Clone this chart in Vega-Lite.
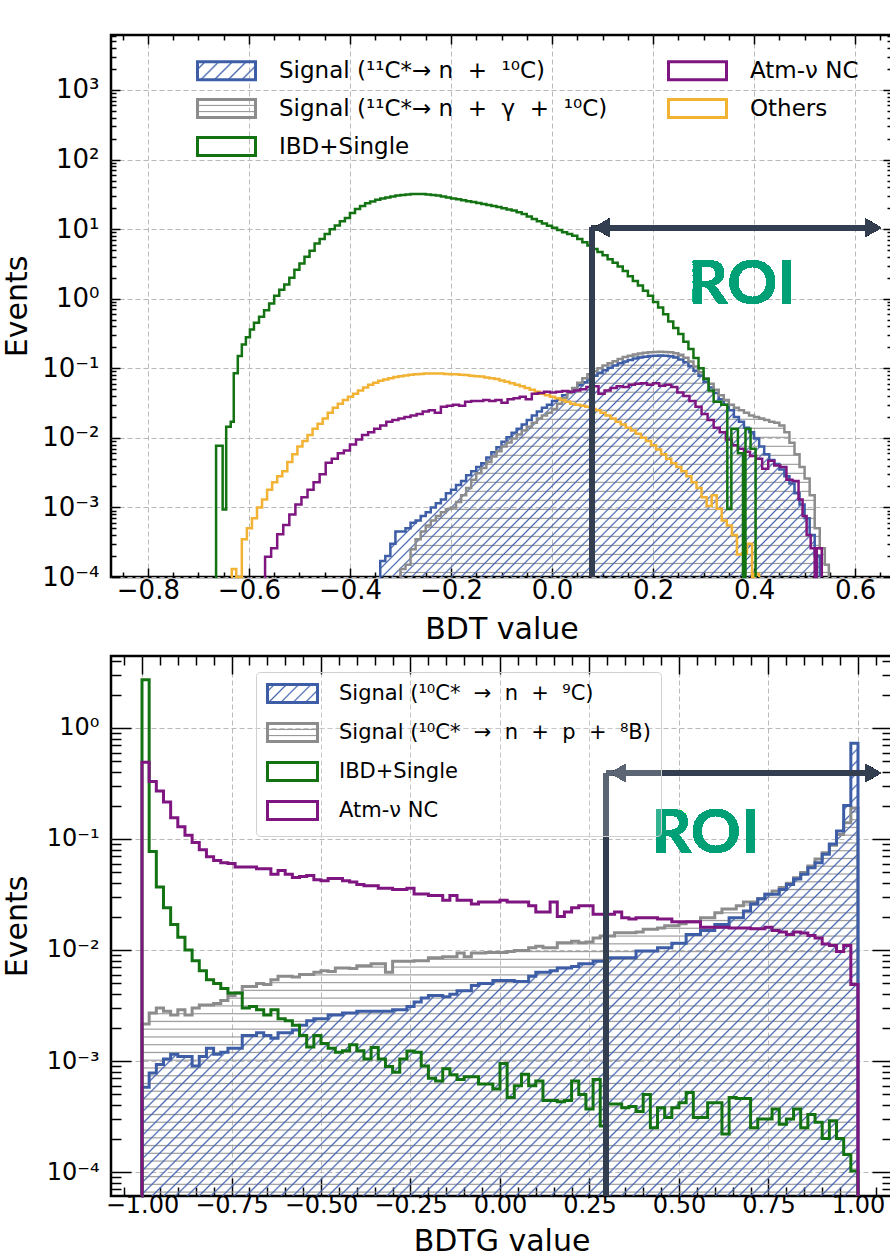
{
"$schema":"https://vega.github.io/schema/vega-lite/v6.json",
"background":"white",
"padding":{"left":0,"top":33,"right":0,"bottom":0},
"spacing":8,
"config":{"font":"DejaVu Sans","view":{"stroke":"black","strokeWidth":2.5},
"axis":{"labelFont":"DejaVu Sans","titleFont":"DejaVu Sans","labelColor":"black","titleColor":"black","tickColor":"black","tickWidth":1.5,"gridColor":"#b8b8b8","gridDash":[5,3],"gridWidth":1,"domain":false,"labelOverlap":false,"labelFlush":false,"labelBound":false,"titleFontWeight":"normal","minExtent":0},
"legend":{"labelFont":"DejaVu Sans","labelColor":"black","labelLimit":0}},
"resolve":{"scale":{"color":"independent","x":"independent","y":"independent"},"legend":{"color":"independent"}},
"datasets":{
"top":[
{"s":"a","x":-0.341,"v":1e-6},{"s":"a","x":-0.34,"v":0.00017},{"s":"a","x":-0.33,"v":0.0002},{"s":"a","x":-0.32,"v":0.0003},{"s":"a","x":-0.31,"v":0.00045},{"s":"a","x":-0.3,"v":0.00045},{"s":"a","x":-0.29,"v":0.0005},{"s":"a","x":-0.28,"v":0.0006},{"s":"a","x":-0.27,"v":0.00065},{"s":"a","x":-0.26,"v":0.00075},{"s":"a","x":-0.25,"v":0.00085},{"s":"a","x":-0.24,"v":0.001},{"s":"a","x":-0.23,"v":0.00115},{"s":"a","x":-0.22,"v":0.0013},{"s":"a","x":-0.21,"v":0.0016},{"s":"a","x":-0.2,"v":0.0018},{"s":"a","x":-0.19,"v":0.0021},{"s":"a","x":-0.18,"v":0.0024},{"s":"a","x":-0.17,"v":0.0029},{"s":"a","x":-0.16,"v":0.0033},{"s":"a","x":-0.15,"v":0.0038},{"s":"a","x":-0.14,"v":0.0043},{"s":"a","x":-0.13,"v":0.0052},{"s":"a","x":-0.12,"v":0.0062},{"s":"a","x":-0.11,"v":0.0073},{"s":"a","x":-0.1,"v":0.0088},{"s":"a","x":-0.09,"v":0.0102},{"s":"a","x":-0.08,"v":0.0118},{"s":"a","x":-0.07,"v":0.0135},{"s":"a","x":-0.06,"v":0.0155},{"s":"a","x":-0.05,"v":0.018},{"s":"a","x":-0.04,"v":0.021},{"s":"a","x":-0.03,"v":0.024},{"s":"a","x":-0.02,"v":0.027},{"s":"a","x":-0.01,"v":0.03},{"s":"a","x":0,"v":0.034},{"s":"a","x":0.01,"v":0.037},{"s":"a","x":0.02,"v":0.041},{"s":"a","x":0.03,"v":0.046},{"s":"a","x":0.04,"v":0.051},{"s":"a","x":0.05,"v":0.057},{"s":"a","x":0.06,"v":0.063},{"s":"a","x":0.07,"v":0.07},{"s":"a","x":0.08,"v":0.078},{"s":"a","x":0.09,"v":0.086},{"s":"a","x":0.1,"v":0.094},{"s":"a","x":0.11,"v":0.102},{"s":"a","x":0.12,"v":0.11},{"s":"a","x":0.13,"v":0.118},{"s":"a","x":0.14,"v":0.125},{"s":"a","x":0.15,"v":0.132},{"s":"a","x":0.16,"v":0.138},{"s":"a","x":0.17,"v":0.143},{"s":"a","x":0.18,"v":0.147},{"s":"a","x":0.19,"v":0.15},{"s":"a","x":0.2,"v":0.152},{"s":"a","x":0.21,"v":0.153},{"s":"a","x":0.22,"v":0.152},{"s":"a","x":0.23,"v":0.149},{"s":"a","x":0.24,"v":0.143},{"s":"a","x":0.25,"v":0.134},{"s":"a","x":0.26,"v":0.122},{"s":"a","x":0.27,"v":0.107},{"s":"a","x":0.28,"v":0.092},{"s":"a","x":0.29,"v":0.078},{"s":"a","x":0.3,"v":0.064},{"s":"a","x":0.31,"v":0.053},{"s":"a","x":0.32,"v":0.044},{"s":"a","x":0.33,"v":0.036},{"s":"a","x":0.34,"v":0.03},{"s":"a","x":0.35,"v":0.025},{"s":"a","x":0.36,"v":0.02},{"s":"a","x":0.37,"v":0.017},{"s":"a","x":0.38,"v":0.014},{"s":"a","x":0.39,"v":0.012},{"s":"a","x":0.4,"v":0.0098},{"s":"a","x":0.41,"v":0.0075},{"s":"a","x":0.42,"v":0.0058},{"s":"a","x":0.43,"v":0.0048},{"s":"a","x":0.44,"v":0.0042},{"s":"a","x":0.45,"v":0.0035},{"s":"a","x":0.46,"v":0.0028},{"s":"a","x":0.47,"v":0.0022},{"s":"a","x":0.48,"v":0.0016},{"s":"a","x":0.49,"v":0.0011},{"s":"a","x":0.5,"v":0.0007},{"s":"a","x":0.51,"v":0.0004},{"s":"a","x":0.52,"v":0.0002},{"s":"a","x":0.53,"v":1e-6},
{"s":"b","x":-0.301,"v":1e-6},{"s":"b","x":-0.3,"v":0.00013},{"s":"b","x":-0.29,"v":0.00015},{"s":"b","x":-0.28,"v":0.00025},{"s":"b","x":-0.27,"v":0.00035},{"s":"b","x":-0.26,"v":0.00045},{"s":"b","x":-0.25,"v":0.00055},{"s":"b","x":-0.24,"v":0.00065},{"s":"b","x":-0.23,"v":0.00075},{"s":"b","x":-0.22,"v":0.00085},{"s":"b","x":-0.21,"v":0.00095},{"s":"b","x":-0.2,"v":0.001},{"s":"b","x":-0.19,"v":0.0012},{"s":"b","x":-0.18,"v":0.0015},{"s":"b","x":-0.17,"v":0.0019},{"s":"b","x":-0.16,"v":0.0025},{"s":"b","x":-0.15,"v":0.0031},{"s":"b","x":-0.14,"v":0.0037},{"s":"b","x":-0.13,"v":0.0045},{"s":"b","x":-0.12,"v":0.0054},{"s":"b","x":-0.11,"v":0.0064},{"s":"b","x":-0.1,"v":0.0075},{"s":"b","x":-0.09,"v":0.0086},{"s":"b","x":-0.08,"v":0.0098},{"s":"b","x":-0.07,"v":0.0112},{"s":"b","x":-0.06,"v":0.0128},{"s":"b","x":-0.05,"v":0.0145},{"s":"b","x":-0.04,"v":0.0165},{"s":"b","x":-0.03,"v":0.019},{"s":"b","x":-0.02,"v":0.021},{"s":"b","x":-0.01,"v":0.023},{"s":"b","x":0,"v":0.026},{"s":"b","x":0.01,"v":0.031},{"s":"b","x":0.02,"v":0.037},{"s":"b","x":0.03,"v":0.044},{"s":"b","x":0.04,"v":0.052},{"s":"b","x":0.05,"v":0.062},{"s":"b","x":0.06,"v":0.072},{"s":"b","x":0.07,"v":0.082},{"s":"b","x":0.08,"v":0.091},{"s":"b","x":0.09,"v":0.1},{"s":"b","x":0.1,"v":0.11},{"s":"b","x":0.11,"v":0.118},{"s":"b","x":0.12,"v":0.126},{"s":"b","x":0.13,"v":0.136},{"s":"b","x":0.14,"v":0.145},{"s":"b","x":0.15,"v":0.152},{"s":"b","x":0.16,"v":0.158},{"s":"b","x":0.17,"v":0.163},{"s":"b","x":0.18,"v":0.167},{"s":"b","x":0.19,"v":0.17},{"s":"b","x":0.2,"v":0.172},{"s":"b","x":0.21,"v":0.173},{"s":"b","x":0.22,"v":0.172},{"s":"b","x":0.23,"v":0.17},{"s":"b","x":0.24,"v":0.165},{"s":"b","x":0.25,"v":0.156},{"s":"b","x":0.26,"v":0.142},{"s":"b","x":0.27,"v":0.125},{"s":"b","x":0.28,"v":0.106},{"s":"b","x":0.29,"v":0.088},{"s":"b","x":0.3,"v":0.072},{"s":"b","x":0.31,"v":0.06},{"s":"b","x":0.32,"v":0.049},{"s":"b","x":0.33,"v":0.041},{"s":"b","x":0.34,"v":0.035},{"s":"b","x":0.35,"v":0.03},{"s":"b","x":0.36,"v":0.027},{"s":"b","x":0.37,"v":0.025},{"s":"b","x":0.38,"v":0.023},{"s":"b","x":0.39,"v":0.021},{"s":"b","x":0.4,"v":0.02},{"s":"b","x":0.41,"v":0.019},{"s":"b","x":0.42,"v":0.018},{"s":"b","x":0.43,"v":0.017},{"s":"b","x":0.44,"v":0.0165},{"s":"b","x":0.45,"v":0.015},{"s":"b","x":0.46,"v":0.012},{"s":"b","x":0.47,"v":0.0085},{"s":"b","x":0.48,"v":0.0058},{"s":"b","x":0.49,"v":0.0038},{"s":"b","x":0.5,"v":0.0026},{"s":"b","x":0.51,"v":0.0015},{"s":"b","x":0.52,"v":0.0005},{"s":"b","x":0.53,"v":0.00026},{"s":"b","x":0.54,"v":0.00015},{"s":"b","x":0.548,"v":1e-6},
{"s":"e","x":-0.635,"v":1e-6},{"s":"e","x":-0.634,"v":0.00013},{"s":"e","x":-0.625,"v":1e-6},{"s":"e","x":-0.614,"v":0.00035},{"s":"e","x":-0.604,"v":0.0005},{"s":"e","x":-0.594,"v":0.0007},{"s":"e","x":-0.584,"v":0.001},{"s":"e","x":-0.574,"v":0.0013},{"s":"e","x":-0.564,"v":0.0018},{"s":"e","x":-0.554,"v":0.0023},{"s":"e","x":-0.544,"v":0.0028},{"s":"e","x":-0.534,"v":0.0033},{"s":"e","x":-0.524,"v":0.0045},{"s":"e","x":-0.514,"v":0.0058},{"s":"e","x":-0.504,"v":0.0075},{"s":"e","x":-0.494,"v":0.009},{"s":"e","x":-0.484,"v":0.011},{"s":"e","x":-0.474,"v":0.0135},{"s":"e","x":-0.464,"v":0.016},{"s":"e","x":-0.454,"v":0.019},{"s":"e","x":-0.444,"v":0.023},{"s":"e","x":-0.434,"v":0.027},{"s":"e","x":-0.424,"v":0.031},{"s":"e","x":-0.414,"v":0.035},{"s":"e","x":-0.404,"v":0.039},{"s":"e","x":-0.394,"v":0.043},{"s":"e","x":-0.384,"v":0.048},{"s":"e","x":-0.374,"v":0.053},{"s":"e","x":-0.364,"v":0.058},{"s":"e","x":-0.354,"v":0.062},{"s":"e","x":-0.344,"v":0.066},{"s":"e","x":-0.334,"v":0.069},{"s":"e","x":-0.324,"v":0.072},{"s":"e","x":-0.314,"v":0.075},{"s":"e","x":-0.304,"v":0.077},{"s":"e","x":-0.294,"v":0.079},{"s":"e","x":-0.284,"v":0.081},{"s":"e","x":-0.274,"v":0.082},{"s":"e","x":-0.264,"v":0.083},{"s":"e","x":-0.254,"v":0.084},{"s":"e","x":-0.244,"v":0.084},{"s":"e","x":-0.234,"v":0.084},{"s":"e","x":-0.224,"v":0.084},{"s":"e","x":-0.214,"v":0.083},{"s":"e","x":-0.204,"v":0.082},{"s":"e","x":-0.194,"v":0.082},{"s":"e","x":-0.184,"v":0.081},{"s":"e","x":-0.174,"v":0.08},{"s":"e","x":-0.164,"v":0.078},{"s":"e","x":-0.154,"v":0.077},{"s":"e","x":-0.144,"v":0.076},{"s":"e","x":-0.134,"v":0.074},{"s":"e","x":-0.124,"v":0.072},{"s":"e","x":-0.114,"v":0.07},{"s":"e","x":-0.104,"v":0.067},{"s":"e","x":-0.094,"v":0.064},{"s":"e","x":-0.084,"v":0.061},{"s":"e","x":-0.074,"v":0.058},{"s":"e","x":-0.064,"v":0.055},{"s":"e","x":-0.054,"v":0.052},{"s":"e","x":-0.044,"v":0.049},{"s":"e","x":-0.034,"v":0.046},{"s":"e","x":-0.024,"v":0.043},{"s":"e","x":-0.014,"v":0.041},{"s":"e","x":-0.004,"v":0.039},{"s":"e","x":0.006,"v":0.037},{"s":"e","x":0.016,"v":0.035},{"s":"e","x":0.026,"v":0.033},{"s":"e","x":0.036,"v":0.031},{"s":"e","x":0.046,"v":0.03},{"s":"e","x":0.056,"v":0.029},{"s":"e","x":0.066,"v":0.028},{"s":"e","x":0.076,"v":0.026},{"s":"e","x":0.086,"v":0.025},{"s":"e","x":0.096,"v":0.023},{"s":"e","x":0.106,"v":0.021},{"s":"e","x":0.116,"v":0.019},{"s":"e","x":0.126,"v":0.017},{"s":"e","x":0.136,"v":0.0155},{"s":"e","x":0.146,"v":0.014},{"s":"e","x":0.156,"v":0.0128},{"s":"e","x":0.166,"v":0.0115},{"s":"e","x":0.176,"v":0.01},{"s":"e","x":0.186,"v":0.009},{"s":"e","x":0.196,"v":0.0078},{"s":"e","x":0.206,"v":0.0068},{"s":"e","x":0.216,"v":0.0058},{"s":"e","x":0.226,"v":0.005},{"s":"e","x":0.236,"v":0.0043},{"s":"e","x":0.246,"v":0.0038},{"s":"e","x":0.256,"v":0.0033},{"s":"e","x":0.266,"v":0.0028},{"s":"e","x":0.276,"v":0.0023},{"s":"e","x":0.286,"v":0.0019},{"s":"e","x":0.296,"v":0.0014},{"s":"e","x":0.306,"v":0.00105},{"s":"e","x":0.316,"v":0.0015},{"s":"e","x":0.326,"v":0.00096},{"s":"e","x":0.336,"v":0.00065},{"s":"e","x":0.346,"v":0.00055},{"s":"e","x":0.356,"v":0.0004},{"s":"e","x":0.366,"v":0.00021},{"s":"e","x":0.376,"v":0.00022},{"s":"e","x":0.386,"v":0.0003},{"s":"e","x":0.396,"v":1e-6},{"s":"e","x":0.4,"v":0.00011},{"s":"e","x":0.41,"v":1e-6},
{"s":"d","x":-0.569,"v":1e-6},{"s":"d","x":-0.568,"v":0.000195},{"s":"d","x":-0.556,"v":0.00026},{"s":"d","x":-0.544,"v":0.00041},{"s":"d","x":-0.532,"v":0.00056},{"s":"d","x":-0.52,"v":0.00079},{"s":"d","x":-0.508,"v":0.0011},{"s":"d","x":-0.496,"v":0.0014},{"s":"d","x":-0.484,"v":0.0018},{"s":"d","x":-0.472,"v":0.0023},{"s":"d","x":-0.46,"v":0.003},{"s":"d","x":-0.448,"v":0.0044},{"s":"d","x":-0.436,"v":0.005},{"s":"d","x":-0.424,"v":0.006},{"s":"d","x":-0.412,"v":0.0066},{"s":"d","x":-0.4,"v":0.008},{"s":"d","x":-0.388,"v":0.0095},{"s":"d","x":-0.376,"v":0.011},{"s":"d","x":-0.364,"v":0.012},{"s":"d","x":-0.352,"v":0.0135},{"s":"d","x":-0.34,"v":0.015},{"s":"d","x":-0.328,"v":0.017},{"s":"d","x":-0.316,"v":0.018},{"s":"d","x":-0.304,"v":0.019},{"s":"d","x":-0.292,"v":0.02},{"s":"d","x":-0.28,"v":0.021},{"s":"d","x":-0.268,"v":0.022},{"s":"d","x":-0.256,"v":0.024},{"s":"d","x":-0.244,"v":0.025},{"s":"d","x":-0.232,"v":0.023},{"s":"d","x":-0.22,"v":0.028},{"s":"d","x":-0.208,"v":0.029},{"s":"d","x":-0.196,"v":0.03},{"s":"d","x":-0.184,"v":0.029},{"s":"d","x":-0.172,"v":0.033},{"s":"d","x":-0.16,"v":0.034},{"s":"d","x":-0.148,"v":0.034},{"s":"d","x":-0.136,"v":0.035},{"s":"d","x":-0.124,"v":0.034},{"s":"d","x":-0.112,"v":0.035},{"s":"d","x":-0.1,"v":0.032},{"s":"d","x":-0.088,"v":0.036},{"s":"d","x":-0.076,"v":0.037},{"s":"d","x":-0.064,"v":0.039},{"s":"d","x":-0.052,"v":0.036},{"s":"d","x":-0.04,"v":0.043},{"s":"d","x":-0.028,"v":0.044},{"s":"d","x":-0.016,"v":0.046},{"s":"d","x":-0.004,"v":0.045},{"s":"d","x":0.008,"v":0.046},{"s":"d","x":0.02,"v":0.047},{"s":"d","x":0.032,"v":0.046},{"s":"d","x":0.044,"v":0.048},{"s":"d","x":0.056,"v":0.05},{"s":"d","x":0.068,"v":0.054},{"s":"d","x":0.08,"v":0.055},{"s":"d","x":0.092,"v":0.043},{"s":"d","x":0.104,"v":0.048},{"s":"d","x":0.116,"v":0.052},{"s":"d","x":0.128,"v":0.055},{"s":"d","x":0.14,"v":0.054},{"s":"d","x":0.152,"v":0.058},{"s":"d","x":0.164,"v":0.06},{"s":"d","x":0.176,"v":0.061},{"s":"d","x":0.188,"v":0.058},{"s":"d","x":0.2,"v":0.061},{"s":"d","x":0.212,"v":0.056},{"s":"d","x":0.224,"v":0.058},{"s":"d","x":0.236,"v":0.054},{"s":"d","x":0.248,"v":0.045},{"s":"d","x":0.26,"v":0.04},{"s":"d","x":0.272,"v":0.034},{"s":"d","x":0.284,"v":0.028},{"s":"d","x":0.296,"v":0.022},{"s":"d","x":0.308,"v":0.018},{"s":"d","x":0.32,"v":0.014},{"s":"d","x":0.332,"v":0.012},{"s":"d","x":0.344,"v":0.0095},{"s":"d","x":0.356,"v":0.0078},{"s":"d","x":0.368,"v":0.007},{"s":"d","x":0.38,"v":0.0063},{"s":"d","x":0.392,"v":0.0055},{"s":"d","x":0.404,"v":0.005},{"s":"d","x":0.416,"v":0.0036},{"s":"d","x":0.428,"v":0.0047},{"s":"d","x":0.44,"v":0.004},{"s":"d","x":0.452,"v":0.0038},{"s":"d","x":0.464,"v":0.0025},{"s":"d","x":0.476,"v":0.0024},{"s":"d","x":0.488,"v":0.0013},{"s":"d","x":0.496,"v":0.00075},{"s":"d","x":0.504,"v":0.0004},{"s":"d","x":0.512,"v":0.00026},{"s":"d","x":0.52,"v":1e-6},{"s":"d","x":0.524,"v":0.00026},{"s":"d","x":0.534,"v":1e-6},
{"s":"c","x":-0.666,"v":1e-6},{"s":"c","x":-0.665,"v":0.0077},{"s":"c","x":-0.652,"v":0.00093},{"s":"c","x":-0.645,"v":0.0145},{"s":"c","x":-0.636,"v":0.017},{"s":"c","x":-0.63,"v":0.085},{"s":"c","x":-0.622,"v":0.15},{"s":"c","x":-0.614,"v":0.22},{"s":"c","x":-0.606,"v":0.28},{"s":"c","x":-0.598,"v":0.36},{"s":"c","x":-0.59,"v":0.45},{"s":"c","x":-0.58,"v":0.55},{"s":"c","x":-0.57,"v":0.68},{"s":"c","x":-0.56,"v":0.85},{"s":"c","x":-0.55,"v":1.1},{"s":"c","x":-0.54,"v":1.35},{"s":"c","x":-0.53,"v":1.6},{"s":"c","x":-0.52,"v":2},{"s":"c","x":-0.51,"v":2.6},{"s":"c","x":-0.5,"v":3.2},{"s":"c","x":-0.49,"v":4},{"s":"c","x":-0.48,"v":4.9},{"s":"c","x":-0.47,"v":6.2},{"s":"c","x":-0.46,"v":7.2},{"s":"c","x":-0.45,"v":8.5},{"s":"c","x":-0.44,"v":10},{"s":"c","x":-0.43,"v":11.3},{"s":"c","x":-0.42,"v":13},{"s":"c","x":-0.41,"v":14.5},{"s":"c","x":-0.4,"v":17},{"s":"c","x":-0.39,"v":19.5},{"s":"c","x":-0.38,"v":21.5},{"s":"c","x":-0.37,"v":23.5},{"s":"c","x":-0.36,"v":25},{"s":"c","x":-0.35,"v":26.5},{"s":"c","x":-0.34,"v":27.5},{"s":"c","x":-0.33,"v":28.5},{"s":"c","x":-0.32,"v":29.5},{"s":"c","x":-0.31,"v":30.5},{"s":"c","x":-0.3,"v":31},{"s":"c","x":-0.29,"v":31.5},{"s":"c","x":-0.28,"v":32},{"s":"c","x":-0.27,"v":32},{"s":"c","x":-0.26,"v":32},{"s":"c","x":-0.25,"v":31.5},{"s":"c","x":-0.24,"v":31},{"s":"c","x":-0.23,"v":30.5},{"s":"c","x":-0.22,"v":29.5},{"s":"c","x":-0.21,"v":28.5},{"s":"c","x":-0.2,"v":27.5},{"s":"c","x":-0.19,"v":26.8},{"s":"c","x":-0.18,"v":26},{"s":"c","x":-0.17,"v":25.2},{"s":"c","x":-0.16,"v":24.5},{"s":"c","x":-0.15,"v":23.8},{"s":"c","x":-0.14,"v":23},{"s":"c","x":-0.13,"v":22.2},{"s":"c","x":-0.12,"v":21.5},{"s":"c","x":-0.11,"v":20.8},{"s":"c","x":-0.1,"v":20},{"s":"c","x":-0.09,"v":19.2},{"s":"c","x":-0.08,"v":18.5},{"s":"c","x":-0.07,"v":17.5},{"s":"c","x":-0.06,"v":16.5},{"s":"c","x":-0.05,"v":15.2},{"s":"c","x":-0.04,"v":14},{"s":"c","x":-0.03,"v":13},{"s":"c","x":-0.02,"v":12},{"s":"c","x":-0.01,"v":11.2},{"s":"c","x":0,"v":10.5},{"s":"c","x":0.01,"v":9.7},{"s":"c","x":0.02,"v":9},{"s":"c","x":0.03,"v":8.5},{"s":"c","x":0.04,"v":8},{"s":"c","x":0.05,"v":7.2},{"s":"c","x":0.06,"v":6.5},{"s":"c","x":0.07,"v":5.8},{"s":"c","x":0.08,"v":5.2},{"s":"c","x":0.09,"v":4.7},{"s":"c","x":0.1,"v":4.2},{"s":"c","x":0.11,"v":3.7},{"s":"c","x":0.12,"v":3.3},{"s":"c","x":0.13,"v":2.9},{"s":"c","x":0.14,"v":2.5},{"s":"c","x":0.15,"v":2.1},{"s":"c","x":0.16,"v":1.8},{"s":"c","x":0.17,"v":1.55},{"s":"c","x":0.18,"v":1.3},{"s":"c","x":0.19,"v":1.1},{"s":"c","x":0.2,"v":0.9},{"s":"c","x":0.21,"v":0.75},{"s":"c","x":0.22,"v":0.6},{"s":"c","x":0.23,"v":0.47},{"s":"c","x":0.24,"v":0.38},{"s":"c","x":0.25,"v":0.31},{"s":"c","x":0.26,"v":0.24},{"s":"c","x":0.27,"v":0.19},{"s":"c","x":0.28,"v":0.14},{"s":"c","x":0.29,"v":0.1},{"s":"c","x":0.3,"v":0.07},{"s":"c","x":0.31,"v":0.048},{"s":"c","x":0.32,"v":0.033},{"s":"c","x":0.335,"v":0.03},{"s":"c","x":0.347,"v":0.00095},{"s":"c","x":0.355,"v":0.0135},{"s":"c","x":0.368,"v":0.006},{"s":"c","x":0.378,"v":1e-6},{"s":"c","x":0.383,"v":0.0135},{"s":"c","x":0.393,"v":0.007},{"s":"c","x":0.403,"v":1e-6}
],
"bot":[
{"s":"g","x":-1.001,"v":1e-6},{"s":"g","x":-1,"v":0.00215},{"s":"g","x":-0.98,"v":0.0027},{"s":"g","x":-0.96,"v":0.003},{"s":"g","x":-0.94,"v":0.0028},{"s":"g","x":-0.92,"v":0.0026},{"s":"g","x":-0.9,"v":0.0029},{"s":"g","x":-0.88,"v":0.0026},{"s":"g","x":-0.86,"v":0.003},{"s":"g","x":-0.84,"v":0.0032},{"s":"g","x":-0.82,"v":0.0032},{"s":"g","x":-0.8,"v":0.0033},{"s":"g","x":-0.78,"v":0.0035},{"s":"g","x":-0.76,"v":0.0039},{"s":"g","x":-0.74,"v":0.0041},{"s":"g","x":-0.72,"v":0.0047},{"s":"g","x":-0.7,"v":0.0047},{"s":"g","x":-0.68,"v":0.005},{"s":"g","x":-0.66,"v":0.0049},{"s":"g","x":-0.64,"v":0.0054},{"s":"g","x":-0.62,"v":0.0058},{"s":"g","x":-0.6,"v":0.0058},{"s":"g","x":-0.58,"v":0.0057},{"s":"g","x":-0.56,"v":0.006},{"s":"g","x":-0.54,"v":0.006},{"s":"g","x":-0.52,"v":0.0063},{"s":"g","x":-0.5,"v":0.0065},{"s":"g","x":-0.48,"v":0.0064},{"s":"g","x":-0.46,"v":0.0069},{"s":"g","x":-0.44,"v":0.0069},{"s":"g","x":-0.42,"v":0.0068},{"s":"g","x":-0.4,"v":0.0072},{"s":"g","x":-0.38,"v":0.0072},{"s":"g","x":-0.36,"v":0.0075},{"s":"g","x":-0.34,"v":0.0075},{"s":"g","x":-0.32,"v":0.0063},{"s":"g","x":-0.3,"v":0.0079},{"s":"g","x":-0.28,"v":0.0079},{"s":"g","x":-0.26,"v":0.0079},{"s":"g","x":-0.24,"v":0.008},{"s":"g","x":-0.22,"v":0.008},{"s":"g","x":-0.2,"v":0.0085},{"s":"g","x":-0.18,"v":0.0085},{"s":"g","x":-0.16,"v":0.0087},{"s":"g","x":-0.14,"v":0.0087},{"s":"g","x":-0.12,"v":0.0094},{"s":"g","x":-0.1,"v":0.0087},{"s":"g","x":-0.08,"v":0.0094},{"s":"g","x":-0.06,"v":0.0094},{"s":"g","x":-0.04,"v":0.0095},{"s":"g","x":-0.02,"v":0.0095},{"s":"g","x":0,"v":0.0095},{"s":"g","x":0.02,"v":0.0097},{"s":"g","x":0.04,"v":0.0099},{"s":"g","x":0.06,"v":0.0099},{"s":"g","x":0.08,"v":0.0105},{"s":"g","x":0.1,"v":0.0108},{"s":"g","x":0.12,"v":0.0105},{"s":"g","x":0.14,"v":0.0105},{"s":"g","x":0.16,"v":0.0116},{"s":"g","x":0.18,"v":0.0116},{"s":"g","x":0.2,"v":0.012},{"s":"g","x":0.22,"v":0.0116},{"s":"g","x":0.24,"v":0.0118},{"s":"g","x":0.26,"v":0.0128},{"s":"g","x":0.28,"v":0.0134},{"s":"g","x":0.3,"v":0.0134},{"s":"g","x":0.32,"v":0.0143},{"s":"g","x":0.34,"v":0.0143},{"s":"g","x":0.36,"v":0.0143},{"s":"g","x":0.38,"v":0.0145},{"s":"g","x":0.4,"v":0.0154},{"s":"g","x":0.42,"v":0.0154},{"s":"g","x":0.44,"v":0.0158},{"s":"g","x":0.46,"v":0.0165},{"s":"g","x":0.48,"v":0.0165},{"s":"g","x":0.5,"v":0.0172},{"s":"g","x":0.52,"v":0.018},{"s":"g","x":0.54,"v":0.018},{"s":"g","x":0.56,"v":0.0195},{"s":"g","x":0.58,"v":0.0195},{"s":"g","x":0.6,"v":0.0217},{"s":"g","x":0.62,"v":0.0234},{"s":"g","x":0.64,"v":0.0234},{"s":"g","x":0.66,"v":0.0251},{"s":"g","x":0.68,"v":0.027},{"s":"g","x":0.7,"v":0.027},{"s":"g","x":0.72,"v":0.029},{"s":"g","x":0.74,"v":0.0318},{"s":"g","x":0.76,"v":0.034},{"s":"g","x":0.78,"v":0.0365},{"s":"g","x":0.8,"v":0.04},{"s":"g","x":0.82,"v":0.0448},{"s":"g","x":0.84,"v":0.05},{"s":"g","x":0.86,"v":0.057},{"s":"g","x":0.88,"v":0.066},{"s":"g","x":0.9,"v":0.075},{"s":"g","x":0.92,"v":0.088},{"s":"g","x":0.94,"v":0.11},{"s":"g","x":0.96,"v":0.14},{"s":"g","x":0.98,"v":0.19},{"s":"g","x":1,"v":1e-6},
{"s":"f","x":-1.001,"v":1e-6},{"s":"f","x":-1,"v":0.00058},{"s":"f","x":-0.98,"v":0.00078},{"s":"f","x":-0.96,"v":0.00093},{"s":"f","x":-0.94,"v":0.00104},{"s":"f","x":-0.92,"v":0.00115},{"s":"f","x":-0.9,"v":0.0011},{"s":"f","x":-0.88,"v":0.0011},{"s":"f","x":-0.86,"v":0.0009},{"s":"f","x":-0.84,"v":0.0011},{"s":"f","x":-0.82,"v":0.0013},{"s":"f","x":-0.8,"v":0.00115},{"s":"f","x":-0.78,"v":0.0012},{"s":"f","x":-0.76,"v":0.0013},{"s":"f","x":-0.74,"v":0.0013},{"s":"f","x":-0.72,"v":0.0017},{"s":"f","x":-0.7,"v":0.0017},{"s":"f","x":-0.68,"v":0.0018},{"s":"f","x":-0.66,"v":0.0017},{"s":"f","x":-0.64,"v":0.0016},{"s":"f","x":-0.62,"v":0.0018},{"s":"f","x":-0.6,"v":0.0018},{"s":"f","x":-0.58,"v":0.0019},{"s":"f","x":-0.56,"v":0.0021},{"s":"f","x":-0.54,"v":0.0023},{"s":"f","x":-0.52,"v":0.0024},{"s":"f","x":-0.5,"v":0.0024},{"s":"f","x":-0.48,"v":0.0026},{"s":"f","x":-0.46,"v":0.0026},{"s":"f","x":-0.44,"v":0.0027},{"s":"f","x":-0.42,"v":0.0027},{"s":"f","x":-0.4,"v":0.0028},{"s":"f","x":-0.38,"v":0.0028},{"s":"f","x":-0.36,"v":0.0028},{"s":"f","x":-0.34,"v":0.0028},{"s":"f","x":-0.32,"v":0.0028},{"s":"f","x":-0.3,"v":0.0029},{"s":"f","x":-0.28,"v":0.0029},{"s":"f","x":-0.26,"v":0.0031},{"s":"f","x":-0.24,"v":0.0034},{"s":"f","x":-0.22,"v":0.0037},{"s":"f","x":-0.2,"v":0.0039},{"s":"f","x":-0.18,"v":0.0039},{"s":"f","x":-0.16,"v":0.0038},{"s":"f","x":-0.14,"v":0.004},{"s":"f","x":-0.12,"v":0.0043},{"s":"f","x":-0.1,"v":0.0043},{"s":"f","x":-0.08,"v":0.0048},{"s":"f","x":-0.06,"v":0.005},{"s":"f","x":-0.04,"v":0.005},{"s":"f","x":-0.02,"v":0.0053},{"s":"f","x":0,"v":0.0053},{"s":"f","x":0.02,"v":0.0053},{"s":"f","x":0.04,"v":0.0052},{"s":"f","x":0.06,"v":0.0052},{"s":"f","x":0.08,"v":0.0058},{"s":"f","x":0.1,"v":0.0063},{"s":"f","x":0.12,"v":0.0063},{"s":"f","x":0.14,"v":0.0065},{"s":"f","x":0.16,"v":0.0069},{"s":"f","x":0.18,"v":0.0069},{"s":"f","x":0.2,"v":0.0071},{"s":"f","x":0.22,"v":0.0075},{"s":"f","x":0.24,"v":0.0075},{"s":"f","x":0.26,"v":0.0079},{"s":"f","x":0.28,"v":0.0079},{"s":"f","x":0.3,"v":0.0085},{"s":"f","x":0.32,"v":0.0085},{"s":"f","x":0.34,"v":0.0085},{"s":"f","x":0.36,"v":0.0085},{"s":"f","x":0.38,"v":0.0098},{"s":"f","x":0.4,"v":0.0098},{"s":"f","x":0.42,"v":0.0098},{"s":"f","x":0.44,"v":0.0105},{"s":"f","x":0.46,"v":0.0105},{"s":"f","x":0.48,"v":0.0115},{"s":"f","x":0.5,"v":0.0115},{"s":"f","x":0.52,"v":0.0138},{"s":"f","x":0.54,"v":0.0138},{"s":"f","x":0.56,"v":0.015},{"s":"f","x":0.58,"v":0.015},{"s":"f","x":0.6,"v":0.017},{"s":"f","x":0.62,"v":0.017},{"s":"f","x":0.64,"v":0.0195},{"s":"f","x":0.66,"v":0.0195},{"s":"f","x":0.68,"v":0.0224},{"s":"f","x":0.7,"v":0.026},{"s":"f","x":0.72,"v":0.029},{"s":"f","x":0.74,"v":0.0318},{"s":"f","x":0.76,"v":0.0318},{"s":"f","x":0.78,"v":0.035},{"s":"f","x":0.8,"v":0.039},{"s":"f","x":0.82,"v":0.0437},{"s":"f","x":0.84,"v":0.048},{"s":"f","x":0.86,"v":0.055},{"s":"f","x":0.88,"v":0.061},{"s":"f","x":0.9,"v":0.073},{"s":"f","x":0.92,"v":0.09},{"s":"f","x":0.94,"v":0.118},{"s":"f","x":0.96,"v":0.2},{"s":"f","x":0.98,"v":0.73},{"s":"f","x":1,"v":1e-6},
{"s":"h","x":-1.001,"v":1e-6},{"s":"h","x":-1,"v":2.72},{"s":"h","x":-0.98,"v":0.077},{"s":"h","x":-0.96,"v":0.037},{"s":"h","x":-0.94,"v":0.024},{"s":"h","x":-0.92,"v":0.017},{"s":"h","x":-0.9,"v":0.013},{"s":"h","x":-0.88,"v":0.01},{"s":"h","x":-0.86,"v":0.008},{"s":"h","x":-0.84,"v":0.0065},{"s":"h","x":-0.82,"v":0.0054},{"s":"h","x":-0.8,"v":0.005},{"s":"h","x":-0.78,"v":0.0045},{"s":"h","x":-0.76,"v":0.0041},{"s":"h","x":-0.74,"v":0.0041},{"s":"h","x":-0.72,"v":0.003},{"s":"h","x":-0.7,"v":0.0031},{"s":"h","x":-0.68,"v":0.0029},{"s":"h","x":-0.66,"v":0.0026},{"s":"h","x":-0.64,"v":0.0029},{"s":"h","x":-0.62,"v":0.0024},{"s":"h","x":-0.6,"v":0.0023},{"s":"h","x":-0.58,"v":0.0021},{"s":"h","x":-0.56,"v":0.0017},{"s":"h","x":-0.54,"v":0.00134},{"s":"h","x":-0.52,"v":0.0017},{"s":"h","x":-0.5,"v":0.00144},{"s":"h","x":-0.48,"v":0.0013},{"s":"h","x":-0.46,"v":0.0012},{"s":"h","x":-0.44,"v":0.00124},{"s":"h","x":-0.42,"v":0.0014},{"s":"h","x":-0.4,"v":0.00124},{"s":"h","x":-0.38,"v":0.00104},{"s":"h","x":-0.36,"v":0.00132},{"s":"h","x":-0.34,"v":0.00104},{"s":"h","x":-0.32,"v":0.00089},{"s":"h","x":-0.3,"v":0.00079},{"s":"h","x":-0.28,"v":0.00104},{"s":"h","x":-0.26,"v":0.00123},{"s":"h","x":-0.24,"v":0.0012},{"s":"h","x":-0.22,"v":0.0009},{"s":"h","x":-0.2,"v":0.0007},{"s":"h","x":-0.18,"v":0.00066},{"s":"h","x":-0.16,"v":0.00085},{"s":"h","x":-0.14,"v":0.00075},{"s":"h","x":-0.12,"v":0.00068},{"s":"h","x":-0.1,"v":0.00072},{"s":"h","x":-0.08,"v":0.00072},{"s":"h","x":-0.06,"v":0.00062},{"s":"h","x":-0.04,"v":0.00062},{"s":"h","x":-0.02,"v":0.00056},{"s":"h","x":0,"v":0.00095},{"s":"h","x":0.02,"v":0.00047},{"s":"h","x":0.04,"v":0.0006},{"s":"h","x":0.06,"v":0.00076},{"s":"h","x":0.08,"v":0.0006},{"s":"h","x":0.1,"v":0.00066},{"s":"h","x":0.12,"v":0.00044},{"s":"h","x":0.14,"v":0.00044},{"s":"h","x":0.16,"v":0.00043},{"s":"h","x":0.18,"v":0.00044},{"s":"h","x":0.2,"v":0.00066},{"s":"h","x":0.22,"v":0.0005},{"s":"h","x":0.24,"v":0.00037},{"s":"h","x":0.26,"v":0.00068},{"s":"h","x":0.28,"v":0.00026},{"s":"h","x":0.3,"v":0.00041},{"s":"h","x":0.32,"v":0.00041},{"s":"h","x":0.34,"v":0.00038},{"s":"h","x":0.36,"v":0.00039},{"s":"h","x":0.38,"v":0.00035},{"s":"h","x":0.4,"v":0.0005},{"s":"h","x":0.42,"v":0.00025},{"s":"h","x":0.44,"v":0.00038},{"s":"h","x":0.46,"v":0.00031},{"s":"h","x":0.48,"v":0.00038},{"s":"h","x":0.5,"v":0.00042},{"s":"h","x":0.52,"v":0.00052},{"s":"h","x":0.54,"v":0.00031},{"s":"h","x":0.56,"v":0.00031},{"s":"h","x":0.58,"v":0.00042},{"s":"h","x":0.6,"v":0.00042},{"s":"h","x":0.62,"v":0.00022},{"s":"h","x":0.64,"v":0.00047},{"s":"h","x":0.66,"v":0.00046},{"s":"h","x":0.68,"v":0.00046},{"s":"h","x":0.7,"v":0.00025},{"s":"h","x":0.72,"v":0.0003},{"s":"h","x":0.74,"v":0.0003},{"s":"h","x":0.76,"v":0.00037},{"s":"h","x":0.78,"v":0.00027},{"s":"h","x":0.8,"v":0.0003},{"s":"h","x":0.82,"v":0.00037},{"s":"h","x":0.84,"v":0.00025},{"s":"h","x":0.86,"v":0.00033},{"s":"h","x":0.88,"v":0.00028},{"s":"h","x":0.9,"v":0.0002},{"s":"h","x":0.92,"v":0.00029},{"s":"h","x":0.94,"v":0.0002},{"s":"h","x":0.96,"v":0.000144},{"s":"h","x":0.98,"v":0.000102},{"s":"h","x":1,"v":1e-6},
{"s":"i","x":-1.001,"v":1e-6},{"s":"i","x":-1,"v":0.49},{"s":"i","x":-0.98,"v":0.33},{"s":"i","x":-0.96,"v":0.27},{"s":"i","x":-0.94,"v":0.215},{"s":"i","x":-0.92,"v":0.155},{"s":"i","x":-0.9,"v":0.129},{"s":"i","x":-0.88,"v":0.108},{"s":"i","x":-0.86,"v":0.093},{"s":"i","x":-0.84,"v":0.08},{"s":"i","x":-0.82,"v":0.069},{"s":"i","x":-0.8,"v":0.064},{"s":"i","x":-0.78,"v":0.061},{"s":"i","x":-0.76,"v":0.06},{"s":"i","x":-0.74,"v":0.056},{"s":"i","x":-0.72,"v":0.056},{"s":"i","x":-0.7,"v":0.056},{"s":"i","x":-0.68,"v":0.054},{"s":"i","x":-0.66,"v":0.054},{"s":"i","x":-0.64,"v":0.048},{"s":"i","x":-0.62,"v":0.052},{"s":"i","x":-0.6,"v":0.048},{"s":"i","x":-0.58,"v":0.045},{"s":"i","x":-0.56,"v":0.046},{"s":"i","x":-0.54,"v":0.047},{"s":"i","x":-0.52,"v":0.043},{"s":"i","x":-0.5,"v":0.042},{"s":"i","x":-0.48,"v":0.044},{"s":"i","x":-0.46,"v":0.044},{"s":"i","x":-0.44,"v":0.042},{"s":"i","x":-0.42,"v":0.041},{"s":"i","x":-0.4,"v":0.039},{"s":"i","x":-0.38,"v":0.038},{"s":"i","x":-0.36,"v":0.038},{"s":"i","x":-0.34,"v":0.036},{"s":"i","x":-0.32,"v":0.036},{"s":"i","x":-0.3,"v":0.035},{"s":"i","x":-0.28,"v":0.035},{"s":"i","x":-0.26,"v":0.036},{"s":"i","x":-0.24,"v":0.032},{"s":"i","x":-0.22,"v":0.032},{"s":"i","x":-0.2,"v":0.031},{"s":"i","x":-0.18,"v":0.031},{"s":"i","x":-0.16,"v":0.028},{"s":"i","x":-0.14,"v":0.031},{"s":"i","x":-0.12,"v":0.028},{"s":"i","x":-0.1,"v":0.028},{"s":"i","x":-0.08,"v":0.026},{"s":"i","x":-0.06,"v":0.027},{"s":"i","x":-0.04,"v":0.027},{"s":"i","x":-0.02,"v":0.027},{"s":"i","x":0,"v":0.028},{"s":"i","x":0.02,"v":0.027},{"s":"i","x":0.04,"v":0.027},{"s":"i","x":0.06,"v":0.027},{"s":"i","x":0.08,"v":0.025},{"s":"i","x":0.1,"v":0.022},{"s":"i","x":0.12,"v":0.022},{"s":"i","x":0.14,"v":0.027},{"s":"i","x":0.16,"v":0.02},{"s":"i","x":0.18,"v":0.022},{"s":"i","x":0.2,"v":0.024},{"s":"i","x":0.22,"v":0.025},{"s":"i","x":0.24,"v":0.025},{"s":"i","x":0.26,"v":0.021},{"s":"i","x":0.28,"v":0.021},{"s":"i","x":0.3,"v":0.021},{"s":"i","x":0.32,"v":0.022},{"s":"i","x":0.34,"v":0.0195},{"s":"i","x":0.36,"v":0.019},{"s":"i","x":0.38,"v":0.0195},{"s":"i","x":0.4,"v":0.0195},{"s":"i","x":0.42,"v":0.0195},{"s":"i","x":0.44,"v":0.019},{"s":"i","x":0.46,"v":0.019},{"s":"i","x":0.48,"v":0.018},{"s":"i","x":0.5,"v":0.018},{"s":"i","x":0.52,"v":0.018},{"s":"i","x":0.54,"v":0.018},{"s":"i","x":0.56,"v":0.016},{"s":"i","x":0.58,"v":0.016},{"s":"i","x":0.6,"v":0.016},{"s":"i","x":0.62,"v":0.016},{"s":"i","x":0.64,"v":0.0158},{"s":"i","x":0.66,"v":0.0158},{"s":"i","x":0.68,"v":0.0158},{"s":"i","x":0.7,"v":0.0155},{"s":"i","x":0.72,"v":0.0155},{"s":"i","x":0.74,"v":0.016},{"s":"i","x":0.76,"v":0.015},{"s":"i","x":0.78,"v":0.0145},{"s":"i","x":0.8,"v":0.0138},{"s":"i","x":0.82,"v":0.0145},{"s":"i","x":0.84,"v":0.0142},{"s":"i","x":0.86,"v":0.0135},{"s":"i","x":0.88,"v":0.0128},{"s":"i","x":0.9,"v":0.0113},{"s":"i","x":0.92,"v":0.011},{"s":"i","x":0.94,"v":0.0097},{"s":"i","x":0.96,"v":0.011},{"s":"i","x":0.98,"v":0.0049},{"s":"i","x":1,"v":1e-6}
]},
"vconcat":[
{"width":781,"height":542,"data":{"name":"top"},
"resolve":{"axis":{"x":"independent","y":"independent"}},
"layer":[
{"transform":[{"filter":"datum.s === 'b'"}],
"mark":{"type":"area","interpolate":"step-after","fill":{"gradient":"linear","x1":0,"y1":0,"x2":0,"y2":1,"stops":[
{"offset":0.015,"color":"rgba(153,153,153,0)"},{"offset":0.02,"color":"#999999"},{"offset":0.025,"color":"rgba(153,153,153,0)"},
{"offset":0.055,"color":"rgba(153,153,153,0)"},{"offset":0.06,"color":"#999999"},{"offset":0.065,"color":"rgba(153,153,153,0)"},
{"offset":0.095,"color":"rgba(153,153,153,0)"},{"offset":0.1,"color":"#999999"},{"offset":0.105,"color":"rgba(153,153,153,0)"},
{"offset":0.135,"color":"rgba(153,153,153,0)"},{"offset":0.14,"color":"#999999"},{"offset":0.145,"color":"rgba(153,153,153,0)"},
{"offset":0.175,"color":"rgba(153,153,153,0)"},{"offset":0.18,"color":"#999999"},{"offset":0.185,"color":"rgba(153,153,153,0)"},
{"offset":0.215,"color":"rgba(153,153,153,0)"},{"offset":0.22,"color":"#999999"},{"offset":0.225,"color":"rgba(153,153,153,0)"},
{"offset":0.255,"color":"rgba(153,153,153,0)"},{"offset":0.26,"color":"#999999"},{"offset":0.265,"color":"rgba(153,153,153,0)"},
{"offset":0.295,"color":"rgba(153,153,153,0)"},{"offset":0.3,"color":"#999999"},{"offset":0.305,"color":"rgba(153,153,153,0)"},
{"offset":0.335,"color":"rgba(153,153,153,0)"},{"offset":0.34,"color":"#999999"},{"offset":0.345,"color":"rgba(153,153,153,0)"},
{"offset":0.375,"color":"rgba(153,153,153,0)"},{"offset":0.38,"color":"#999999"},{"offset":0.385,"color":"rgba(153,153,153,0)"},
{"offset":0.415,"color":"rgba(153,153,153,0)"},{"offset":0.42,"color":"#999999"},{"offset":0.425,"color":"rgba(153,153,153,0)"},
{"offset":0.455,"color":"rgba(153,153,153,0)"},{"offset":0.46,"color":"#999999"},{"offset":0.465,"color":"rgba(153,153,153,0)"},
{"offset":0.495,"color":"rgba(153,153,153,0)"},{"offset":0.5,"color":"#999999"},{"offset":0.505,"color":"rgba(153,153,153,0)"},
{"offset":0.535,"color":"rgba(153,153,153,0)"},{"offset":0.54,"color":"#999999"},{"offset":0.545,"color":"rgba(153,153,153,0)"},
{"offset":0.575,"color":"rgba(153,153,153,0)"},{"offset":0.58,"color":"#999999"},{"offset":0.585,"color":"rgba(153,153,153,0)"},
{"offset":0.615,"color":"rgba(153,153,153,0)"},{"offset":0.62,"color":"#999999"},{"offset":0.625,"color":"rgba(153,153,153,0)"},
{"offset":0.655,"color":"rgba(153,153,153,0)"},{"offset":0.66,"color":"#999999"},{"offset":0.665,"color":"rgba(153,153,153,0)"},
{"offset":0.695,"color":"rgba(153,153,153,0)"},{"offset":0.7,"color":"#999999"},{"offset":0.705,"color":"rgba(153,153,153,0)"},
{"offset":0.735,"color":"rgba(153,153,153,0)"},{"offset":0.74,"color":"#999999"},{"offset":0.745,"color":"rgba(153,153,153,0)"},
{"offset":0.775,"color":"rgba(153,153,153,0)"},{"offset":0.78,"color":"#999999"},{"offset":0.785,"color":"rgba(153,153,153,0)"},
{"offset":0.815,"color":"rgba(153,153,153,0)"},{"offset":0.82,"color":"#999999"},{"offset":0.825,"color":"rgba(153,153,153,0)"},
{"offset":0.855,"color":"rgba(153,153,153,0)"},{"offset":0.86,"color":"#999999"},{"offset":0.865,"color":"rgba(153,153,153,0)"},
{"offset":0.895,"color":"rgba(153,153,153,0)"},{"offset":0.9,"color":"#999999"},{"offset":0.905,"color":"rgba(153,153,153,0)"},
{"offset":0.935,"color":"rgba(153,153,153,0)"},{"offset":0.94,"color":"#999999"},{"offset":0.945,"color":"rgba(153,153,153,0)"},
{"offset":0.975,"color":"rgba(153,153,153,0)"},{"offset":0.98,"color":"#999999"},{"offset":0.985,"color":"rgba(153,153,153,0)"}]}},
"encoding":{
"x":{"field":"x","type":"quantitative","scale":{"domain":[-0.873,0.673],"nice":false,"zero":false},
"axis":{"orient":"bottom","values":[-0.85,-0.8,-0.75,-0.7,-0.65,-0.6,-0.55,-0.5,-0.45,-0.4,-0.35,-0.3,-0.25,-0.2,-0.15,-0.1,-0.05,0,0.05,0.1,0.15,0.2,0.25,0.3,0.35,0.4,0.45,0.5,0.55,0.6,0.65],
"labelExpr":"abs(datum.value*5-round(datum.value*5))<0.001 ? format(datum.value,'.1f') : ''",
"tickSize":{"condition":{"test":"abs(datum.value*5-round(datum.value*5))<0.001","value":-9},"value":-5},
"gridOpacity":{"condition":{"test":"abs(datum.value*5-round(datum.value*5))<0.001","value":1},"value":0},
"labelFontSize":{"condition":{"test":"abs(datum.value*5-round(datum.value*5))<0.001","value":26},"value":0},
"grid":true,"labelPadding":9,"title":"BDT value","titleFontSize":30,"titleY":52,"titleBaseline":"middle"}},
"y":{"field":"v","type":"quantitative","scale":{"type":"log","domain":[0.0001,6170],"nice":false,"clamp":true},
"axis":{"orient":"left","values":[0.0001,0.0002,0.0003,0.0004,0.0005,0.0006,0.0007,0.0008,0.0009,0.001,0.002,0.003,0.004,0.005,0.006,0.007,0.008,0.009,0.01,0.02,0.03,0.04,0.05,0.06,0.07,0.08,0.09,0.1,0.2,0.3,0.4,0.5,0.6,0.7,0.8,0.9,1,2,3,4,5,6,7,8,9,10,20,30,40,50,60,70,80,90,100,200,300,400,500,600,700,800,900,1000,2000,3000,4000,5000,6000],
"labelExpr":"abs(log(datum.value)/LN10-round(log(datum.value)/LN10))<0.001 ? '10' + (datum.value < 0.5 ? '⁻' : '') + ['⁰','¹','²','³','⁴','⁵','⁶','⁷','⁸','⁹'][abs(round(log(datum.value)/LN10))] : ''",
"tickSize":{"condition":{"test":"abs(log(datum.value)/LN10-round(log(datum.value)/LN10))<0.001","value":-9},"value":-5},
"gridOpacity":{"condition":{"test":"abs(log(datum.value)/LN10-round(log(datum.value)/LN10))<0.001","value":1},"value":0},
"labelFontSize":{"condition":{"test":"abs(log(datum.value)/LN10-round(log(datum.value)/LN10))<0.001","value":26},"value":0},
"grid":true,"labelPadding":21,"title":"Events","titleFontSize":30,"titleX":-94,"titleBaseline":"middle"}},
"y2":{"datum":0.0001}}},
{"transform":[{"filter":"datum.s === 'a'"}],
"mark":{"type":"area","interpolate":"step-after","fill":{"gradient":"linear","x1":0,"y1":0,"x2":1.2,"y2":0.603,"stops":[
{"offset":0.005,"color":"rgba(69,101,176,0)"},{"offset":0.0075,"color":"#4565b0"},{"offset":0.01,"color":"rgba(69,101,176,0)"},
{"offset":0.02,"color":"rgba(69,101,176,0)"},{"offset":0.0225,"color":"#4565b0"},{"offset":0.025,"color":"rgba(69,101,176,0)"},
{"offset":0.035,"color":"rgba(69,101,176,0)"},{"offset":0.0375,"color":"#4565b0"},{"offset":0.04,"color":"rgba(69,101,176,0)"},
{"offset":0.05,"color":"rgba(69,101,176,0)"},{"offset":0.0525,"color":"#4565b0"},{"offset":0.055,"color":"rgba(69,101,176,0)"},
{"offset":0.065,"color":"rgba(69,101,176,0)"},{"offset":0.0675,"color":"#4565b0"},{"offset":0.07,"color":"rgba(69,101,176,0)"},
{"offset":0.08,"color":"rgba(69,101,176,0)"},{"offset":0.0825,"color":"#4565b0"},{"offset":0.085,"color":"rgba(69,101,176,0)"},
{"offset":0.095,"color":"rgba(69,101,176,0)"},{"offset":0.0975,"color":"#4565b0"},{"offset":0.1,"color":"rgba(69,101,176,0)"},
{"offset":0.11,"color":"rgba(69,101,176,0)"},{"offset":0.1125,"color":"#4565b0"},{"offset":0.115,"color":"rgba(69,101,176,0)"},
{"offset":0.125,"color":"rgba(69,101,176,0)"},{"offset":0.1275,"color":"#4565b0"},{"offset":0.13,"color":"rgba(69,101,176,0)"},
{"offset":0.14,"color":"rgba(69,101,176,0)"},{"offset":0.1425,"color":"#4565b0"},{"offset":0.145,"color":"rgba(69,101,176,0)"},
{"offset":0.155,"color":"rgba(69,101,176,0)"},{"offset":0.1575,"color":"#4565b0"},{"offset":0.16,"color":"rgba(69,101,176,0)"},
{"offset":0.17,"color":"rgba(69,101,176,0)"},{"offset":0.1725,"color":"#4565b0"},{"offset":0.175,"color":"rgba(69,101,176,0)"},
{"offset":0.185,"color":"rgba(69,101,176,0)"},{"offset":0.1875,"color":"#4565b0"},{"offset":0.19,"color":"rgba(69,101,176,0)"},
{"offset":0.2,"color":"rgba(69,101,176,0)"},{"offset":0.2025,"color":"#4565b0"},{"offset":0.205,"color":"rgba(69,101,176,0)"},
{"offset":0.215,"color":"rgba(69,101,176,0)"},{"offset":0.2175,"color":"#4565b0"},{"offset":0.22,"color":"rgba(69,101,176,0)"},
{"offset":0.23,"color":"rgba(69,101,176,0)"},{"offset":0.2325,"color":"#4565b0"},{"offset":0.235,"color":"rgba(69,101,176,0)"},
{"offset":0.245,"color":"rgba(69,101,176,0)"},{"offset":0.2475,"color":"#4565b0"},{"offset":0.25,"color":"rgba(69,101,176,0)"},
{"offset":0.26,"color":"rgba(69,101,176,0)"},{"offset":0.2625,"color":"#4565b0"},{"offset":0.265,"color":"rgba(69,101,176,0)"},
{"offset":0.275,"color":"rgba(69,101,176,0)"},{"offset":0.2775,"color":"#4565b0"},{"offset":0.28,"color":"rgba(69,101,176,0)"},
{"offset":0.29,"color":"rgba(69,101,176,0)"},{"offset":0.2925,"color":"#4565b0"},{"offset":0.295,"color":"rgba(69,101,176,0)"},
{"offset":0.305,"color":"rgba(69,101,176,0)"},{"offset":0.3075,"color":"#4565b0"},{"offset":0.31,"color":"rgba(69,101,176,0)"},
{"offset":0.32,"color":"rgba(69,101,176,0)"},{"offset":0.3225,"color":"#4565b0"},{"offset":0.325,"color":"rgba(69,101,176,0)"},
{"offset":0.335,"color":"rgba(69,101,176,0)"},{"offset":0.3375,"color":"#4565b0"},{"offset":0.34,"color":"rgba(69,101,176,0)"},
{"offset":0.35,"color":"rgba(69,101,176,0)"},{"offset":0.3525,"color":"#4565b0"},{"offset":0.355,"color":"rgba(69,101,176,0)"},
{"offset":0.365,"color":"rgba(69,101,176,0)"},{"offset":0.3675,"color":"#4565b0"},{"offset":0.37,"color":"rgba(69,101,176,0)"},
{"offset":0.38,"color":"rgba(69,101,176,0)"},{"offset":0.3825,"color":"#4565b0"},{"offset":0.385,"color":"rgba(69,101,176,0)"},
{"offset":0.395,"color":"rgba(69,101,176,0)"},{"offset":0.3975,"color":"#4565b0"},{"offset":0.4,"color":"rgba(69,101,176,0)"},
{"offset":0.41,"color":"rgba(69,101,176,0)"},{"offset":0.4125,"color":"#4565b0"},{"offset":0.415,"color":"rgba(69,101,176,0)"},
{"offset":0.425,"color":"rgba(69,101,176,0)"},{"offset":0.4275,"color":"#4565b0"},{"offset":0.43,"color":"rgba(69,101,176,0)"},
{"offset":0.44,"color":"rgba(69,101,176,0)"},{"offset":0.4425,"color":"#4565b0"},{"offset":0.445,"color":"rgba(69,101,176,0)"},
{"offset":0.455,"color":"rgba(69,101,176,0)"},{"offset":0.4575,"color":"#4565b0"},{"offset":0.46,"color":"rgba(69,101,176,0)"},
{"offset":0.47,"color":"rgba(69,101,176,0)"},{"offset":0.4725,"color":"#4565b0"},{"offset":0.475,"color":"rgba(69,101,176,0)"},
{"offset":0.485,"color":"rgba(69,101,176,0)"},{"offset":0.4875,"color":"#4565b0"},{"offset":0.49,"color":"rgba(69,101,176,0)"},
{"offset":0.5,"color":"rgba(69,101,176,0)"},{"offset":0.5025,"color":"#4565b0"},{"offset":0.505,"color":"rgba(69,101,176,0)"},
{"offset":0.515,"color":"rgba(69,101,176,0)"},{"offset":0.5175,"color":"#4565b0"},{"offset":0.52,"color":"rgba(69,101,176,0)"},
{"offset":0.53,"color":"rgba(69,101,176,0)"},{"offset":0.5325,"color":"#4565b0"},{"offset":0.535,"color":"rgba(69,101,176,0)"},
{"offset":0.545,"color":"rgba(69,101,176,0)"},{"offset":0.5475,"color":"#4565b0"},{"offset":0.55,"color":"rgba(69,101,176,0)"},
{"offset":0.56,"color":"rgba(69,101,176,0)"},{"offset":0.5625,"color":"#4565b0"},{"offset":0.565,"color":"rgba(69,101,176,0)"},
{"offset":0.575,"color":"rgba(69,101,176,0)"},{"offset":0.5775,"color":"#4565b0"},{"offset":0.58,"color":"rgba(69,101,176,0)"},
{"offset":0.59,"color":"rgba(69,101,176,0)"},{"offset":0.5925,"color":"#4565b0"},{"offset":0.595,"color":"rgba(69,101,176,0)"},
{"offset":0.605,"color":"rgba(69,101,176,0)"},{"offset":0.6075,"color":"#4565b0"},{"offset":0.61,"color":"rgba(69,101,176,0)"},
{"offset":0.62,"color":"rgba(69,101,176,0)"},{"offset":0.6225,"color":"#4565b0"},{"offset":0.625,"color":"rgba(69,101,176,0)"},
{"offset":0.635,"color":"rgba(69,101,176,0)"},{"offset":0.6375,"color":"#4565b0"},{"offset":0.64,"color":"rgba(69,101,176,0)"},
{"offset":0.65,"color":"rgba(69,101,176,0)"},{"offset":0.6525,"color":"#4565b0"},{"offset":0.655,"color":"rgba(69,101,176,0)"},
{"offset":0.665,"color":"rgba(69,101,176,0)"},{"offset":0.6675,"color":"#4565b0"},{"offset":0.67,"color":"rgba(69,101,176,0)"},
{"offset":0.68,"color":"rgba(69,101,176,0)"},{"offset":0.6825,"color":"#4565b0"},{"offset":0.685,"color":"rgba(69,101,176,0)"},
{"offset":0.695,"color":"rgba(69,101,176,0)"},{"offset":0.6975,"color":"#4565b0"},{"offset":0.7,"color":"rgba(69,101,176,0)"},
{"offset":0.71,"color":"rgba(69,101,176,0)"},{"offset":0.7125,"color":"#4565b0"},{"offset":0.715,"color":"rgba(69,101,176,0)"},
{"offset":0.725,"color":"rgba(69,101,176,0)"},{"offset":0.7275,"color":"#4565b0"},{"offset":0.73,"color":"rgba(69,101,176,0)"},
{"offset":0.74,"color":"rgba(69,101,176,0)"},{"offset":0.7425,"color":"#4565b0"},{"offset":0.745,"color":"rgba(69,101,176,0)"},
{"offset":0.755,"color":"rgba(69,101,176,0)"},{"offset":0.7575,"color":"#4565b0"},{"offset":0.76,"color":"rgba(69,101,176,0)"},
{"offset":0.77,"color":"rgba(69,101,176,0)"},{"offset":0.7725,"color":"#4565b0"},{"offset":0.775,"color":"rgba(69,101,176,0)"},
{"offset":0.785,"color":"rgba(69,101,176,0)"},{"offset":0.7875,"color":"#4565b0"},{"offset":0.79,"color":"rgba(69,101,176,0)"},
{"offset":0.8,"color":"rgba(69,101,176,0)"},{"offset":0.8025,"color":"#4565b0"},{"offset":0.805,"color":"rgba(69,101,176,0)"},
{"offset":0.815,"color":"rgba(69,101,176,0)"},{"offset":0.8175,"color":"#4565b0"},{"offset":0.82,"color":"rgba(69,101,176,0)"},
{"offset":0.83,"color":"rgba(69,101,176,0)"},{"offset":0.8325,"color":"#4565b0"},{"offset":0.835,"color":"rgba(69,101,176,0)"},
{"offset":0.845,"color":"rgba(69,101,176,0)"},{"offset":0.8475,"color":"#4565b0"},{"offset":0.85,"color":"rgba(69,101,176,0)"},
{"offset":0.86,"color":"rgba(69,101,176,0)"},{"offset":0.8625,"color":"#4565b0"},{"offset":0.865,"color":"rgba(69,101,176,0)"},
{"offset":0.875,"color":"rgba(69,101,176,0)"},{"offset":0.8775,"color":"#4565b0"},{"offset":0.88,"color":"rgba(69,101,176,0)"},
{"offset":0.89,"color":"rgba(69,101,176,0)"},{"offset":0.8925,"color":"#4565b0"},{"offset":0.895,"color":"rgba(69,101,176,0)"},
{"offset":0.905,"color":"rgba(69,101,176,0)"},{"offset":0.9075,"color":"#4565b0"},{"offset":0.91,"color":"rgba(69,101,176,0)"},
{"offset":0.92,"color":"rgba(69,101,176,0)"},{"offset":0.9225,"color":"#4565b0"},{"offset":0.925,"color":"rgba(69,101,176,0)"},
{"offset":0.935,"color":"rgba(69,101,176,0)"},{"offset":0.9375,"color":"#4565b0"},{"offset":0.94,"color":"rgba(69,101,176,0)"},
{"offset":0.95,"color":"rgba(69,101,176,0)"},{"offset":0.9525,"color":"#4565b0"},{"offset":0.955,"color":"rgba(69,101,176,0)"},
{"offset":0.965,"color":"rgba(69,101,176,0)"},{"offset":0.9675,"color":"#4565b0"},{"offset":0.97,"color":"rgba(69,101,176,0)"},
{"offset":0.98,"color":"rgba(69,101,176,0)"},{"offset":0.9825,"color":"#4565b0"},{"offset":0.985,"color":"rgba(69,101,176,0)"}]}},
"encoding":{
"x":{"field":"x","type":"quantitative",
"axis":{"orient":"top","values":[-0.85,-0.8,-0.75,-0.7,-0.65,-0.6,-0.55,-0.5,-0.45,-0.4,-0.35,-0.3,-0.25,-0.2,-0.15,-0.1,-0.05,0,0.05,0.1,0.15,0.2,0.25,0.3,0.35,0.4,0.45,0.5,0.55,0.6,0.65],"labels":false,"grid":false,"title":null,"minExtent":0,"maxExtent":0,
"tickSize":{"condition":{"test":"abs(datum.value*5-round(datum.value*5))<0.001","value":-9},"value":-5}}},
"y":{"field":"v","type":"quantitative",
"axis":{"orient":"right","values":[0.0001,0.0002,0.0003,0.0004,0.0005,0.0006,0.0007,0.0008,0.0009,0.001,0.002,0.003,0.004,0.005,0.006,0.007,0.008,0.009,0.01,0.02,0.03,0.04,0.05,0.06,0.07,0.08,0.09,0.1,0.2,0.3,0.4,0.5,0.6,0.7,0.8,0.9,1,2,3,4,5,6,7,8,9,10,20,30,40,50,60,70,80,90,100,200,300,400,500,600,700,800,900,1000,2000,3000,4000,5000,6000],"labels":false,"grid":false,"title":null,"minExtent":0,"maxExtent":0,
"tickSize":{"condition":{"test":"abs(log(datum.value)/LN10-round(log(datum.value)/LN10))<0.001","value":-9},"value":-5}}},
"y2":{"datum":0.0001}}},
{"mark":{"type":"line","interpolate":"step-after","strokeWidth":2.5},
"encoding":{"x":{"field":"x","type":"quantitative","axis":null},"y":{"field":"v","type":"quantitative","axis":null},
"color":{"field":"s","type":"nominal","scale":{"domain":["a","b","c","d","e"],"range":["#3d5da7","#8c8c8c","#137313","#7f1580","#f2b233"]},
"legend":{"orient":"none","legendX":85,"legendY":24,"columns":2,"columnPadding":54,"rowPadding":7,"padding":0,"title":null,
"symbolType":"M-1,-0.9L4.8,-0.9L4.8,0.9L-1,0.9Z","symbolSize":400,"symbolStrokeWidth":3,"symbolFillColor":"transparent","labelOffset":60,"labelFontSize":23,
"labelExpr":"datum.value === 'a' ? 'Signal (¹¹C*→ n\u00a0\u00a0+\u00a0\u00a0¹⁰C)' : datum.value === 'b' ? 'Signal (¹¹C*→ n\u00a0\u00a0+\u00a0\u00a0γ\u00a0\u00a0+\u00a0\u00a0¹⁰C)' : datum.value === 'c' ? 'IBD+Single' : datum.value === 'd' ? 'Atm-ν NC' : 'Others'",
"encode":{"symbols":{"update":{"fill":[
{"test":"datum.value === 'a'","value":{"gradient":"linear","x1":0,"y1":0,"x2":1.195,"y2":0.371,"stops":[{"offset":0.075,"color":"rgba(69,101,176,0)"},{"offset":0.1,"color":"#4565b0"},{"offset":0.125,"color":"rgba(69,101,176,0)"},{"offset":0.255,"color":"rgba(69,101,176,0)"},{"offset":0.28,"color":"#4565b0"},{"offset":0.305,"color":"rgba(69,101,176,0)"},{"offset":0.435,"color":"rgba(69,101,176,0)"},{"offset":0.46,"color":"#4565b0"},{"offset":0.485,"color":"rgba(69,101,176,0)"},{"offset":0.615,"color":"rgba(69,101,176,0)"},{"offset":0.64,"color":"#4565b0"},{"offset":0.665,"color":"rgba(69,101,176,0)"},{"offset":0.795,"color":"rgba(69,101,176,0)"},{"offset":0.82,"color":"#4565b0"},{"offset":0.845,"color":"rgba(69,101,176,0)"}]}},
{"test":"datum.value === 'b'","value":{"gradient":"linear","x1":0,"y1":0,"x2":0,"y2":1,"stops":[{"offset":0.27,"color":"rgba(153,153,153,0)"},{"offset":0.333,"color":"#999999"},{"offset":0.39,"color":"rgba(153,153,153,0)"},{"offset":0.61,"color":"rgba(153,153,153,0)"},{"offset":0.667,"color":"#999999"},{"offset":0.73,"color":"rgba(153,153,153,0)"}]}},
{"value":"transparent"}]}}}}}}},
{"mark":{"type":"rule","color":"#333f50","strokeWidth":5},"encoding":{"x":{"datum":0.079,"axis":null},"y":{"datum":0.0001,"axis":null},"y2":{"datum":10.5}}},
{"mark":{"type":"rule","color":"#333f50","strokeWidth":5},"encoding":{"x":{"datum":0.079,"axis":null},"x2":{"datum":0.645},"y":{"datum":10.5,"axis":null}}},
{"mark":{"type":"point","shape":"triangle-left","filled":true,"size":320,"color":"#333f50","opacity":1},"encoding":{"x":{"datum":0.098,"axis":null},"y":{"datum":10.5,"axis":null}}},
{"mark":{"type":"point","shape":"triangle-right","filled":true,"size":320,"color":"#333f50","opacity":1},"encoding":{"x":{"datum":0.636,"axis":null},"y":{"datum":10.5,"axis":null}}},
{"mark":{"type":"text","text":"ROI","font":"Lato","fontWeight":"bold","fontSize":62,"color":"#00a077","baseline":"alphabetic","align":"center"},"encoding":{"x":{"datum":0.376,"axis":null},"y":{"datum":0.85,"axis":null}}}
]},
{"width":781,"height":540,"data":{"name":"bot"},
"resolve":{"axis":{"x":"independent","y":"independent"}},
"layer":[
{"transform":[{"filter":"datum.s === 'g'"}],
"mark":{"type":"area","interpolate":"step-after","fill":{"gradient":"linear","x1":0,"y1":0,"x2":0,"y2":1,"stops":[
{"offset":0.007,"color":"rgba(153,153,153,0)"},{"offset":0.01,"color":"#999999"},{"offset":0.013,"color":"rgba(153,153,153,0)"},
{"offset":0.027,"color":"rgba(153,153,153,0)"},{"offset":0.03,"color":"#999999"},{"offset":0.033,"color":"rgba(153,153,153,0)"},
{"offset":0.047,"color":"rgba(153,153,153,0)"},{"offset":0.05,"color":"#999999"},{"offset":0.053,"color":"rgba(153,153,153,0)"},
{"offset":0.067,"color":"rgba(153,153,153,0)"},{"offset":0.07,"color":"#999999"},{"offset":0.073,"color":"rgba(153,153,153,0)"},
{"offset":0.087,"color":"rgba(153,153,153,0)"},{"offset":0.09,"color":"#999999"},{"offset":0.093,"color":"rgba(153,153,153,0)"},
{"offset":0.107,"color":"rgba(153,153,153,0)"},{"offset":0.11,"color":"#999999"},{"offset":0.113,"color":"rgba(153,153,153,0)"},
{"offset":0.127,"color":"rgba(153,153,153,0)"},{"offset":0.13,"color":"#999999"},{"offset":0.133,"color":"rgba(153,153,153,0)"},
{"offset":0.147,"color":"rgba(153,153,153,0)"},{"offset":0.15,"color":"#999999"},{"offset":0.153,"color":"rgba(153,153,153,0)"},
{"offset":0.167,"color":"rgba(153,153,153,0)"},{"offset":0.17,"color":"#999999"},{"offset":0.173,"color":"rgba(153,153,153,0)"},
{"offset":0.187,"color":"rgba(153,153,153,0)"},{"offset":0.19,"color":"#999999"},{"offset":0.193,"color":"rgba(153,153,153,0)"},
{"offset":0.207,"color":"rgba(153,153,153,0)"},{"offset":0.21,"color":"#999999"},{"offset":0.213,"color":"rgba(153,153,153,0)"},
{"offset":0.227,"color":"rgba(153,153,153,0)"},{"offset":0.23,"color":"#999999"},{"offset":0.233,"color":"rgba(153,153,153,0)"},
{"offset":0.247,"color":"rgba(153,153,153,0)"},{"offset":0.25,"color":"#999999"},{"offset":0.253,"color":"rgba(153,153,153,0)"},
{"offset":0.267,"color":"rgba(153,153,153,0)"},{"offset":0.27,"color":"#999999"},{"offset":0.273,"color":"rgba(153,153,153,0)"},
{"offset":0.287,"color":"rgba(153,153,153,0)"},{"offset":0.29,"color":"#999999"},{"offset":0.293,"color":"rgba(153,153,153,0)"},
{"offset":0.307,"color":"rgba(153,153,153,0)"},{"offset":0.31,"color":"#999999"},{"offset":0.313,"color":"rgba(153,153,153,0)"},
{"offset":0.327,"color":"rgba(153,153,153,0)"},{"offset":0.33,"color":"#999999"},{"offset":0.333,"color":"rgba(153,153,153,0)"},
{"offset":0.347,"color":"rgba(153,153,153,0)"},{"offset":0.35,"color":"#999999"},{"offset":0.353,"color":"rgba(153,153,153,0)"},
{"offset":0.367,"color":"rgba(153,153,153,0)"},{"offset":0.37,"color":"#999999"},{"offset":0.373,"color":"rgba(153,153,153,0)"},
{"offset":0.387,"color":"rgba(153,153,153,0)"},{"offset":0.39,"color":"#999999"},{"offset":0.393,"color":"rgba(153,153,153,0)"},
{"offset":0.407,"color":"rgba(153,153,153,0)"},{"offset":0.41,"color":"#999999"},{"offset":0.413,"color":"rgba(153,153,153,0)"},
{"offset":0.427,"color":"rgba(153,153,153,0)"},{"offset":0.43,"color":"#999999"},{"offset":0.433,"color":"rgba(153,153,153,0)"},
{"offset":0.447,"color":"rgba(153,153,153,0)"},{"offset":0.45,"color":"#999999"},{"offset":0.453,"color":"rgba(153,153,153,0)"},
{"offset":0.467,"color":"rgba(153,153,153,0)"},{"offset":0.47,"color":"#999999"},{"offset":0.473,"color":"rgba(153,153,153,0)"},
{"offset":0.487,"color":"rgba(153,153,153,0)"},{"offset":0.49,"color":"#999999"},{"offset":0.493,"color":"rgba(153,153,153,0)"},
{"offset":0.507,"color":"rgba(153,153,153,0)"},{"offset":0.51,"color":"#999999"},{"offset":0.513,"color":"rgba(153,153,153,0)"},
{"offset":0.527,"color":"rgba(153,153,153,0)"},{"offset":0.53,"color":"#999999"},{"offset":0.533,"color":"rgba(153,153,153,0)"},
{"offset":0.547,"color":"rgba(153,153,153,0)"},{"offset":0.55,"color":"#999999"},{"offset":0.553,"color":"rgba(153,153,153,0)"},
{"offset":0.567,"color":"rgba(153,153,153,0)"},{"offset":0.57,"color":"#999999"},{"offset":0.573,"color":"rgba(153,153,153,0)"},
{"offset":0.587,"color":"rgba(153,153,153,0)"},{"offset":0.59,"color":"#999999"},{"offset":0.593,"color":"rgba(153,153,153,0)"},
{"offset":0.607,"color":"rgba(153,153,153,0)"},{"offset":0.61,"color":"#999999"},{"offset":0.613,"color":"rgba(153,153,153,0)"},
{"offset":0.627,"color":"rgba(153,153,153,0)"},{"offset":0.63,"color":"#999999"},{"offset":0.633,"color":"rgba(153,153,153,0)"},
{"offset":0.647,"color":"rgba(153,153,153,0)"},{"offset":0.65,"color":"#999999"},{"offset":0.653,"color":"rgba(153,153,153,0)"},
{"offset":0.667,"color":"rgba(153,153,153,0)"},{"offset":0.67,"color":"#999999"},{"offset":0.673,"color":"rgba(153,153,153,0)"},
{"offset":0.687,"color":"rgba(153,153,153,0)"},{"offset":0.69,"color":"#999999"},{"offset":0.693,"color":"rgba(153,153,153,0)"},
{"offset":0.707,"color":"rgba(153,153,153,0)"},{"offset":0.71,"color":"#999999"},{"offset":0.713,"color":"rgba(153,153,153,0)"},
{"offset":0.727,"color":"rgba(153,153,153,0)"},{"offset":0.73,"color":"#999999"},{"offset":0.733,"color":"rgba(153,153,153,0)"},
{"offset":0.747,"color":"rgba(153,153,153,0)"},{"offset":0.75,"color":"#999999"},{"offset":0.753,"color":"rgba(153,153,153,0)"},
{"offset":0.767,"color":"rgba(153,153,153,0)"},{"offset":0.77,"color":"#999999"},{"offset":0.773,"color":"rgba(153,153,153,0)"},
{"offset":0.787,"color":"rgba(153,153,153,0)"},{"offset":0.79,"color":"#999999"},{"offset":0.793,"color":"rgba(153,153,153,0)"},
{"offset":0.807,"color":"rgba(153,153,153,0)"},{"offset":0.81,"color":"#999999"},{"offset":0.813,"color":"rgba(153,153,153,0)"},
{"offset":0.827,"color":"rgba(153,153,153,0)"},{"offset":0.83,"color":"#999999"},{"offset":0.833,"color":"rgba(153,153,153,0)"},
{"offset":0.847,"color":"rgba(153,153,153,0)"},{"offset":0.85,"color":"#999999"},{"offset":0.853,"color":"rgba(153,153,153,0)"},
{"offset":0.867,"color":"rgba(153,153,153,0)"},{"offset":0.87,"color":"#999999"},{"offset":0.873,"color":"rgba(153,153,153,0)"},
{"offset":0.887,"color":"rgba(153,153,153,0)"},{"offset":0.89,"color":"#999999"},{"offset":0.893,"color":"rgba(153,153,153,0)"},
{"offset":0.907,"color":"rgba(153,153,153,0)"},{"offset":0.91,"color":"#999999"},{"offset":0.913,"color":"rgba(153,153,153,0)"},
{"offset":0.927,"color":"rgba(153,153,153,0)"},{"offset":0.93,"color":"#999999"},{"offset":0.933,"color":"rgba(153,153,153,0)"},
{"offset":0.947,"color":"rgba(153,153,153,0)"},{"offset":0.95,"color":"#999999"},{"offset":0.953,"color":"rgba(153,153,153,0)"},
{"offset":0.967,"color":"rgba(153,153,153,0)"},{"offset":0.97,"color":"#999999"},{"offset":0.973,"color":"rgba(153,153,153,0)"},
{"offset":0.987,"color":"rgba(153,153,153,0)"},{"offset":0.99,"color":"#999999"},{"offset":0.993,"color":"rgba(153,153,153,0)"}]}},
"encoding":{
"x":{"field":"x","type":"quantitative","scale":{"domain":[-1.0866,1.095],"nice":false,"zero":false},
"axis":{"orient":"bottom","values":[-1.05,-1,-0.95,-0.9,-0.85,-0.8,-0.75,-0.7,-0.65,-0.6,-0.55,-0.5,-0.45,-0.4,-0.35,-0.3,-0.25,-0.2,-0.15,-0.1,-0.05,0,0.05,0.1,0.15,0.2,0.25,0.3,0.35,0.4,0.45,0.5,0.55,0.6,0.65,0.7,0.75,0.8,0.85,0.9,0.95,1,1.05],
"labelExpr":"abs(datum.value*4-round(datum.value*4))<0.001 ? format(datum.value,'.2f') : ''",
"tickSize":{"condition":{"test":"abs(datum.value*4-round(datum.value*4))<0.001","value":-18},"value":-9},
"gridOpacity":{"condition":{"test":"abs(datum.value*4-round(datum.value*4))<0.001","value":1},"value":0},
"labelFontSize":{"condition":{"test":"abs(datum.value*4-round(datum.value*4))<0.001","value":24},"value":0},
"grid":true,"labelPadding":15,"title":"BDTG value","titleFontSize":30,"titleY":45,"titleBaseline":"middle"}},
"y":{"field":"v","type":"quantitative","scale":{"type":"log","domain":[0.0000608,4.45],"nice":false,"clamp":true},
"axis":{"orient":"left","values":[0.00007,0.00008,0.00009,0.0001,0.0002,0.0003,0.0004,0.0005,0.0006,0.0007,0.0008,0.0009,0.001,0.002,0.003,0.004,0.005,0.006,0.007,0.008,0.009,0.01,0.02,0.03,0.04,0.05,0.06,0.07,0.08,0.09,0.1,0.2,0.3,0.4,0.5,0.6,0.7,0.8,0.9,1,2,3,4],
"labelExpr":"abs(log(datum.value)/LN10-round(log(datum.value)/LN10))<0.001 ? '10' + (datum.value < 0.5 ? '⁻' : '') + ['⁰','¹','²','³','⁴','⁵','⁶','⁷','⁸','⁹'][abs(round(log(datum.value)/LN10))] : ''",
"tickSize":{"condition":{"test":"abs(log(datum.value)/LN10-round(log(datum.value)/LN10))<0.001","value":-20},"value":-10},
"gridOpacity":{"condition":{"test":"abs(log(datum.value)/LN10-round(log(datum.value)/LN10))<0.001","value":1},"value":0},
"labelFontSize":{"condition":{"test":"abs(log(datum.value)/LN10-round(log(datum.value)/LN10))<0.001","value":24},"value":0},
"grid":true,"labelPadding":32,"title":"Events","titleFontSize":30,"titleX":-94,"titleBaseline":"middle"}},
"y2":{"datum":0.0000608}}},
{"transform":[{"filter":"datum.s === 'f'"}],
"mark":{"type":"area","interpolate":"step-after","fill":{"gradient":"linear","x1":0,"y1":0,"x2":1.17,"y2":0.74,"stops":[
{"offset":0.0035,"color":"rgba(69,101,176,0)"},{"offset":0.005,"color":"#4565b0"},{"offset":0.0065,"color":"rgba(69,101,176,0)"},
{"offset":0.0135,"color":"rgba(69,101,176,0)"},{"offset":0.015,"color":"#4565b0"},{"offset":0.0165,"color":"rgba(69,101,176,0)"},
{"offset":0.0235,"color":"rgba(69,101,176,0)"},{"offset":0.025,"color":"#4565b0"},{"offset":0.0265,"color":"rgba(69,101,176,0)"},
{"offset":0.0335,"color":"rgba(69,101,176,0)"},{"offset":0.035,"color":"#4565b0"},{"offset":0.0365,"color":"rgba(69,101,176,0)"},
{"offset":0.0435,"color":"rgba(69,101,176,0)"},{"offset":0.045,"color":"#4565b0"},{"offset":0.0465,"color":"rgba(69,101,176,0)"},
{"offset":0.0535,"color":"rgba(69,101,176,0)"},{"offset":0.055,"color":"#4565b0"},{"offset":0.0565,"color":"rgba(69,101,176,0)"},
{"offset":0.0635,"color":"rgba(69,101,176,0)"},{"offset":0.065,"color":"#4565b0"},{"offset":0.0665,"color":"rgba(69,101,176,0)"},
{"offset":0.0735,"color":"rgba(69,101,176,0)"},{"offset":0.075,"color":"#4565b0"},{"offset":0.0765,"color":"rgba(69,101,176,0)"},
{"offset":0.0835,"color":"rgba(69,101,176,0)"},{"offset":0.085,"color":"#4565b0"},{"offset":0.0865,"color":"rgba(69,101,176,0)"},
{"offset":0.0935,"color":"rgba(69,101,176,0)"},{"offset":0.095,"color":"#4565b0"},{"offset":0.0965,"color":"rgba(69,101,176,0)"},
{"offset":0.1035,"color":"rgba(69,101,176,0)"},{"offset":0.105,"color":"#4565b0"},{"offset":0.1065,"color":"rgba(69,101,176,0)"},
{"offset":0.1135,"color":"rgba(69,101,176,0)"},{"offset":0.115,"color":"#4565b0"},{"offset":0.1165,"color":"rgba(69,101,176,0)"},
{"offset":0.1235,"color":"rgba(69,101,176,0)"},{"offset":0.125,"color":"#4565b0"},{"offset":0.1265,"color":"rgba(69,101,176,0)"},
{"offset":0.1335,"color":"rgba(69,101,176,0)"},{"offset":0.135,"color":"#4565b0"},{"offset":0.1365,"color":"rgba(69,101,176,0)"},
{"offset":0.1435,"color":"rgba(69,101,176,0)"},{"offset":0.145,"color":"#4565b0"},{"offset":0.1465,"color":"rgba(69,101,176,0)"},
{"offset":0.1535,"color":"rgba(69,101,176,0)"},{"offset":0.155,"color":"#4565b0"},{"offset":0.1565,"color":"rgba(69,101,176,0)"},
{"offset":0.1635,"color":"rgba(69,101,176,0)"},{"offset":0.165,"color":"#4565b0"},{"offset":0.1665,"color":"rgba(69,101,176,0)"},
{"offset":0.1735,"color":"rgba(69,101,176,0)"},{"offset":0.175,"color":"#4565b0"},{"offset":0.1765,"color":"rgba(69,101,176,0)"},
{"offset":0.1835,"color":"rgba(69,101,176,0)"},{"offset":0.185,"color":"#4565b0"},{"offset":0.1865,"color":"rgba(69,101,176,0)"},
{"offset":0.1935,"color":"rgba(69,101,176,0)"},{"offset":0.195,"color":"#4565b0"},{"offset":0.1965,"color":"rgba(69,101,176,0)"},
{"offset":0.2035,"color":"rgba(69,101,176,0)"},{"offset":0.205,"color":"#4565b0"},{"offset":0.2065,"color":"rgba(69,101,176,0)"},
{"offset":0.2135,"color":"rgba(69,101,176,0)"},{"offset":0.215,"color":"#4565b0"},{"offset":0.2165,"color":"rgba(69,101,176,0)"},
{"offset":0.2235,"color":"rgba(69,101,176,0)"},{"offset":0.225,"color":"#4565b0"},{"offset":0.2265,"color":"rgba(69,101,176,0)"},
{"offset":0.2335,"color":"rgba(69,101,176,0)"},{"offset":0.235,"color":"#4565b0"},{"offset":0.2365,"color":"rgba(69,101,176,0)"},
{"offset":0.2435,"color":"rgba(69,101,176,0)"},{"offset":0.245,"color":"#4565b0"},{"offset":0.2465,"color":"rgba(69,101,176,0)"},
{"offset":0.2535,"color":"rgba(69,101,176,0)"},{"offset":0.255,"color":"#4565b0"},{"offset":0.2565,"color":"rgba(69,101,176,0)"},
{"offset":0.2635,"color":"rgba(69,101,176,0)"},{"offset":0.265,"color":"#4565b0"},{"offset":0.2665,"color":"rgba(69,101,176,0)"},
{"offset":0.2735,"color":"rgba(69,101,176,0)"},{"offset":0.275,"color":"#4565b0"},{"offset":0.2765,"color":"rgba(69,101,176,0)"},
{"offset":0.2835,"color":"rgba(69,101,176,0)"},{"offset":0.285,"color":"#4565b0"},{"offset":0.2865,"color":"rgba(69,101,176,0)"},
{"offset":0.2935,"color":"rgba(69,101,176,0)"},{"offset":0.295,"color":"#4565b0"},{"offset":0.2965,"color":"rgba(69,101,176,0)"},
{"offset":0.3035,"color":"rgba(69,101,176,0)"},{"offset":0.305,"color":"#4565b0"},{"offset":0.3065,"color":"rgba(69,101,176,0)"},
{"offset":0.3135,"color":"rgba(69,101,176,0)"},{"offset":0.315,"color":"#4565b0"},{"offset":0.3165,"color":"rgba(69,101,176,0)"},
{"offset":0.3235,"color":"rgba(69,101,176,0)"},{"offset":0.325,"color":"#4565b0"},{"offset":0.3265,"color":"rgba(69,101,176,0)"},
{"offset":0.3335,"color":"rgba(69,101,176,0)"},{"offset":0.335,"color":"#4565b0"},{"offset":0.3365,"color":"rgba(69,101,176,0)"},
{"offset":0.3435,"color":"rgba(69,101,176,0)"},{"offset":0.345,"color":"#4565b0"},{"offset":0.3465,"color":"rgba(69,101,176,0)"},
{"offset":0.3535,"color":"rgba(69,101,176,0)"},{"offset":0.355,"color":"#4565b0"},{"offset":0.3565,"color":"rgba(69,101,176,0)"},
{"offset":0.3635,"color":"rgba(69,101,176,0)"},{"offset":0.365,"color":"#4565b0"},{"offset":0.3665,"color":"rgba(69,101,176,0)"},
{"offset":0.3735,"color":"rgba(69,101,176,0)"},{"offset":0.375,"color":"#4565b0"},{"offset":0.3765,"color":"rgba(69,101,176,0)"},
{"offset":0.3835,"color":"rgba(69,101,176,0)"},{"offset":0.385,"color":"#4565b0"},{"offset":0.3865,"color":"rgba(69,101,176,0)"},
{"offset":0.3935,"color":"rgba(69,101,176,0)"},{"offset":0.395,"color":"#4565b0"},{"offset":0.3965,"color":"rgba(69,101,176,0)"},
{"offset":0.4035,"color":"rgba(69,101,176,0)"},{"offset":0.405,"color":"#4565b0"},{"offset":0.4065,"color":"rgba(69,101,176,0)"},
{"offset":0.4135,"color":"rgba(69,101,176,0)"},{"offset":0.415,"color":"#4565b0"},{"offset":0.4165,"color":"rgba(69,101,176,0)"},
{"offset":0.4235,"color":"rgba(69,101,176,0)"},{"offset":0.425,"color":"#4565b0"},{"offset":0.4265,"color":"rgba(69,101,176,0)"},
{"offset":0.4335,"color":"rgba(69,101,176,0)"},{"offset":0.435,"color":"#4565b0"},{"offset":0.4365,"color":"rgba(69,101,176,0)"},
{"offset":0.4435,"color":"rgba(69,101,176,0)"},{"offset":0.445,"color":"#4565b0"},{"offset":0.4465,"color":"rgba(69,101,176,0)"},
{"offset":0.4535,"color":"rgba(69,101,176,0)"},{"offset":0.455,"color":"#4565b0"},{"offset":0.4565,"color":"rgba(69,101,176,0)"},
{"offset":0.4635,"color":"rgba(69,101,176,0)"},{"offset":0.465,"color":"#4565b0"},{"offset":0.4665,"color":"rgba(69,101,176,0)"},
{"offset":0.4735,"color":"rgba(69,101,176,0)"},{"offset":0.475,"color":"#4565b0"},{"offset":0.4765,"color":"rgba(69,101,176,0)"},
{"offset":0.4835,"color":"rgba(69,101,176,0)"},{"offset":0.485,"color":"#4565b0"},{"offset":0.4865,"color":"rgba(69,101,176,0)"},
{"offset":0.4935,"color":"rgba(69,101,176,0)"},{"offset":0.495,"color":"#4565b0"},{"offset":0.4965,"color":"rgba(69,101,176,0)"},
{"offset":0.5035,"color":"rgba(69,101,176,0)"},{"offset":0.505,"color":"#4565b0"},{"offset":0.5065,"color":"rgba(69,101,176,0)"},
{"offset":0.5135,"color":"rgba(69,101,176,0)"},{"offset":0.515,"color":"#4565b0"},{"offset":0.5165,"color":"rgba(69,101,176,0)"},
{"offset":0.5235,"color":"rgba(69,101,176,0)"},{"offset":0.525,"color":"#4565b0"},{"offset":0.5265,"color":"rgba(69,101,176,0)"},
{"offset":0.5335,"color":"rgba(69,101,176,0)"},{"offset":0.535,"color":"#4565b0"},{"offset":0.5365,"color":"rgba(69,101,176,0)"},
{"offset":0.5435,"color":"rgba(69,101,176,0)"},{"offset":0.545,"color":"#4565b0"},{"offset":0.5465,"color":"rgba(69,101,176,0)"},
{"offset":0.5535,"color":"rgba(69,101,176,0)"},{"offset":0.555,"color":"#4565b0"},{"offset":0.5565,"color":"rgba(69,101,176,0)"},
{"offset":0.5635,"color":"rgba(69,101,176,0)"},{"offset":0.565,"color":"#4565b0"},{"offset":0.5665,"color":"rgba(69,101,176,0)"},
{"offset":0.5735,"color":"rgba(69,101,176,0)"},{"offset":0.575,"color":"#4565b0"},{"offset":0.5765,"color":"rgba(69,101,176,0)"},
{"offset":0.5835,"color":"rgba(69,101,176,0)"},{"offset":0.585,"color":"#4565b0"},{"offset":0.5865,"color":"rgba(69,101,176,0)"},
{"offset":0.5935,"color":"rgba(69,101,176,0)"},{"offset":0.595,"color":"#4565b0"},{"offset":0.5965,"color":"rgba(69,101,176,0)"},
{"offset":0.6035,"color":"rgba(69,101,176,0)"},{"offset":0.605,"color":"#4565b0"},{"offset":0.6065,"color":"rgba(69,101,176,0)"},
{"offset":0.6135,"color":"rgba(69,101,176,0)"},{"offset":0.615,"color":"#4565b0"},{"offset":0.6165,"color":"rgba(69,101,176,0)"},
{"offset":0.6235,"color":"rgba(69,101,176,0)"},{"offset":0.625,"color":"#4565b0"},{"offset":0.6265,"color":"rgba(69,101,176,0)"},
{"offset":0.6335,"color":"rgba(69,101,176,0)"},{"offset":0.635,"color":"#4565b0"},{"offset":0.6365,"color":"rgba(69,101,176,0)"},
{"offset":0.6435,"color":"rgba(69,101,176,0)"},{"offset":0.645,"color":"#4565b0"},{"offset":0.6465,"color":"rgba(69,101,176,0)"},
{"offset":0.6535,"color":"rgba(69,101,176,0)"},{"offset":0.655,"color":"#4565b0"},{"offset":0.6565,"color":"rgba(69,101,176,0)"},
{"offset":0.6635,"color":"rgba(69,101,176,0)"},{"offset":0.665,"color":"#4565b0"},{"offset":0.6665,"color":"rgba(69,101,176,0)"},
{"offset":0.6735,"color":"rgba(69,101,176,0)"},{"offset":0.675,"color":"#4565b0"},{"offset":0.6765,"color":"rgba(69,101,176,0)"},
{"offset":0.6835,"color":"rgba(69,101,176,0)"},{"offset":0.685,"color":"#4565b0"},{"offset":0.6865,"color":"rgba(69,101,176,0)"},
{"offset":0.6935,"color":"rgba(69,101,176,0)"},{"offset":0.695,"color":"#4565b0"},{"offset":0.6965,"color":"rgba(69,101,176,0)"},
{"offset":0.7035,"color":"rgba(69,101,176,0)"},{"offset":0.705,"color":"#4565b0"},{"offset":0.7065,"color":"rgba(69,101,176,0)"},
{"offset":0.7135,"color":"rgba(69,101,176,0)"},{"offset":0.715,"color":"#4565b0"},{"offset":0.7165,"color":"rgba(69,101,176,0)"},
{"offset":0.7235,"color":"rgba(69,101,176,0)"},{"offset":0.725,"color":"#4565b0"},{"offset":0.7265,"color":"rgba(69,101,176,0)"},
{"offset":0.7335,"color":"rgba(69,101,176,0)"},{"offset":0.735,"color":"#4565b0"},{"offset":0.7365,"color":"rgba(69,101,176,0)"},
{"offset":0.7435,"color":"rgba(69,101,176,0)"},{"offset":0.745,"color":"#4565b0"},{"offset":0.7465,"color":"rgba(69,101,176,0)"},
{"offset":0.7535,"color":"rgba(69,101,176,0)"},{"offset":0.755,"color":"#4565b0"},{"offset":0.7565,"color":"rgba(69,101,176,0)"},
{"offset":0.7635,"color":"rgba(69,101,176,0)"},{"offset":0.765,"color":"#4565b0"},{"offset":0.7665,"color":"rgba(69,101,176,0)"},
{"offset":0.7735,"color":"rgba(69,101,176,0)"},{"offset":0.775,"color":"#4565b0"},{"offset":0.7765,"color":"rgba(69,101,176,0)"},
{"offset":0.7835,"color":"rgba(69,101,176,0)"},{"offset":0.785,"color":"#4565b0"},{"offset":0.7865,"color":"rgba(69,101,176,0)"},
{"offset":0.7935,"color":"rgba(69,101,176,0)"},{"offset":0.795,"color":"#4565b0"},{"offset":0.7965,"color":"rgba(69,101,176,0)"},
{"offset":0.8035,"color":"rgba(69,101,176,0)"},{"offset":0.805,"color":"#4565b0"},{"offset":0.8065,"color":"rgba(69,101,176,0)"},
{"offset":0.8135,"color":"rgba(69,101,176,0)"},{"offset":0.815,"color":"#4565b0"},{"offset":0.8165,"color":"rgba(69,101,176,0)"},
{"offset":0.8235,"color":"rgba(69,101,176,0)"},{"offset":0.825,"color":"#4565b0"},{"offset":0.8265,"color":"rgba(69,101,176,0)"},
{"offset":0.8335,"color":"rgba(69,101,176,0)"},{"offset":0.835,"color":"#4565b0"},{"offset":0.8365,"color":"rgba(69,101,176,0)"},
{"offset":0.8435,"color":"rgba(69,101,176,0)"},{"offset":0.845,"color":"#4565b0"},{"offset":0.8465,"color":"rgba(69,101,176,0)"},
{"offset":0.8535,"color":"rgba(69,101,176,0)"},{"offset":0.855,"color":"#4565b0"},{"offset":0.8565,"color":"rgba(69,101,176,0)"},
{"offset":0.8635,"color":"rgba(69,101,176,0)"},{"offset":0.865,"color":"#4565b0"},{"offset":0.8665,"color":"rgba(69,101,176,0)"},
{"offset":0.8735,"color":"rgba(69,101,176,0)"},{"offset":0.875,"color":"#4565b0"},{"offset":0.8765,"color":"rgba(69,101,176,0)"},
{"offset":0.8835,"color":"rgba(69,101,176,0)"},{"offset":0.885,"color":"#4565b0"},{"offset":0.8865,"color":"rgba(69,101,176,0)"},
{"offset":0.8935,"color":"rgba(69,101,176,0)"},{"offset":0.895,"color":"#4565b0"},{"offset":0.8965,"color":"rgba(69,101,176,0)"},
{"offset":0.9035,"color":"rgba(69,101,176,0)"},{"offset":0.905,"color":"#4565b0"},{"offset":0.9065,"color":"rgba(69,101,176,0)"},
{"offset":0.9135,"color":"rgba(69,101,176,0)"},{"offset":0.915,"color":"#4565b0"},{"offset":0.9165,"color":"rgba(69,101,176,0)"},
{"offset":0.9235,"color":"rgba(69,101,176,0)"},{"offset":0.925,"color":"#4565b0"},{"offset":0.9265,"color":"rgba(69,101,176,0)"},
{"offset":0.9335,"color":"rgba(69,101,176,0)"},{"offset":0.935,"color":"#4565b0"},{"offset":0.9365,"color":"rgba(69,101,176,0)"},
{"offset":0.9435,"color":"rgba(69,101,176,0)"},{"offset":0.945,"color":"#4565b0"},{"offset":0.9465,"color":"rgba(69,101,176,0)"},
{"offset":0.9535,"color":"rgba(69,101,176,0)"},{"offset":0.955,"color":"#4565b0"},{"offset":0.9565,"color":"rgba(69,101,176,0)"},
{"offset":0.9635,"color":"rgba(69,101,176,0)"},{"offset":0.965,"color":"#4565b0"},{"offset":0.9665,"color":"rgba(69,101,176,0)"},
{"offset":0.9735,"color":"rgba(69,101,176,0)"},{"offset":0.975,"color":"#4565b0"},{"offset":0.9765,"color":"rgba(69,101,176,0)"},
{"offset":0.9835,"color":"rgba(69,101,176,0)"},{"offset":0.985,"color":"#4565b0"},{"offset":0.9865,"color":"rgba(69,101,176,0)"},
{"offset":0.9935,"color":"rgba(69,101,176,0)"},{"offset":0.995,"color":"#4565b0"},{"offset":0.9965,"color":"rgba(69,101,176,0)"}]}},
"encoding":{
"x":{"field":"x","type":"quantitative",
"axis":{"orient":"top","values":[-1.05,-1,-0.95,-0.9,-0.85,-0.8,-0.75,-0.7,-0.65,-0.6,-0.55,-0.5,-0.45,-0.4,-0.35,-0.3,-0.25,-0.2,-0.15,-0.1,-0.05,0,0.05,0.1,0.15,0.2,0.25,0.3,0.35,0.4,0.45,0.5,0.55,0.6,0.65,0.7,0.75,0.8,0.85,0.9,0.95,1,1.05],"labels":false,"grid":false,"title":null,"minExtent":0,"maxExtent":0,
"tickSize":{"condition":{"test":"abs(datum.value*4-round(datum.value*4))<0.001","value":-18},"value":-9}}},
"y":{"field":"v","type":"quantitative",
"axis":{"orient":"right","values":[0.00007,0.00008,0.00009,0.0001,0.0002,0.0003,0.0004,0.0005,0.0006,0.0007,0.0008,0.0009,0.001,0.002,0.003,0.004,0.005,0.006,0.007,0.008,0.009,0.01,0.02,0.03,0.04,0.05,0.06,0.07,0.08,0.09,0.1,0.2,0.3,0.4,0.5,0.6,0.7,0.8,0.9,1,2,3,4],"labels":false,"grid":false,"title":null,"minExtent":0,"maxExtent":0,
"tickSize":{"condition":{"test":"abs(log(datum.value)/LN10-round(log(datum.value)/LN10))<0.001","value":-20},"value":-10}}},
"y2":{"datum":0.0000608}}},
{"mark":{"type":"line","interpolate":"step-after","strokeWidth":3},
"encoding":{"x":{"field":"x","type":"quantitative","axis":null},"y":{"field":"v","type":"quantitative","axis":null},
"color":{"field":"s","type":"nominal","scale":{"domain":["f","g","h","i"],"range":["#3d5da7","#8c8c8c","#137313","#7f1580"]},
"legend":{"orient":"none","legendX":145,"legendY":16,"padding":10,"rowPadding":8,"title":null,
"fillColor":"rgba(255,255,255,0.2)","strokeColor":"#d0d0d0","cornerRadius":4,
"symbolType":"M-1,-0.9L4,-0.9L4,0.9L-1,0.9Z","symbolSize":400,"symbolStrokeWidth":3,"symbolFillColor":"transparent","labelOffset":50,"labelFontSize":21,
"labelExpr":"datum.value === 'f' ? 'Signal (¹⁰C*\u00a0\u00a0→\u00a0\u00a0n\u00a0\u00a0+\u00a0\u00a0⁹C)' : datum.value === 'g' ? 'Signal (¹⁰C*\u00a0\u00a0→\u00a0\u00a0n\u00a0\u00a0+\u00a0\u00a0p\u00a0\u00a0+\u00a0\u00a0⁸B)' : datum.value === 'h' ? 'IBD+Single' : 'Atm-ν NC'",
"encode":{"symbols":{"update":{"fill":[
{"test":"datum.value === 'f'","value":{"gradient":"linear","x1":0,"y1":0,"x2":1.204,"y2":0.433,"stops":[{"offset":0.075,"color":"rgba(69,101,176,0)"},{"offset":0.1,"color":"#4565b0"},{"offset":0.125,"color":"rgba(69,101,176,0)"},{"offset":0.255,"color":"rgba(69,101,176,0)"},{"offset":0.28,"color":"#4565b0"},{"offset":0.305,"color":"rgba(69,101,176,0)"},{"offset":0.435,"color":"rgba(69,101,176,0)"},{"offset":0.46,"color":"#4565b0"},{"offset":0.485,"color":"rgba(69,101,176,0)"},{"offset":0.615,"color":"rgba(69,101,176,0)"},{"offset":0.64,"color":"#4565b0"},{"offset":0.665,"color":"rgba(69,101,176,0)"},{"offset":0.795,"color":"rgba(69,101,176,0)"},{"offset":0.82,"color":"#4565b0"},{"offset":0.845,"color":"rgba(69,101,176,0)"}]}},
{"test":"datum.value === 'g'","value":{"gradient":"linear","x1":0,"y1":0,"x2":0,"y2":1,"stops":[{"offset":0.27,"color":"rgba(153,153,153,0)"},{"offset":0.333,"color":"#999999"},{"offset":0.39,"color":"rgba(153,153,153,0)"},{"offset":0.61,"color":"rgba(153,153,153,0)"},{"offset":0.667,"color":"#999999"},{"offset":0.73,"color":"rgba(153,153,153,0)"}]}},
{"value":"transparent"}]}}}}}}},
{"mark":{"type":"rule","color":"#333f50","strokeWidth":5},"encoding":{"x":{"datum":0.297,"axis":null},"y":{"datum":0.0000608,"axis":null},"y2":{"datum":0.393}}},
{"mark":{"type":"rule","color":"#333f50","strokeWidth":5},"encoding":{"x":{"datum":0.297,"axis":null},"x2":{"datum":1.055},"y":{"datum":0.393,"axis":null}}},
{"mark":{"type":"point","shape":"triangle-left","filled":true,"size":320,"color":"#333f50","opacity":1},"encoding":{"x":{"datum":0.33,"axis":null},"y":{"datum":0.393,"axis":null}}},
{"mark":{"type":"point","shape":"triangle-right","filled":true,"size":320,"color":"#333f50","opacity":1},"encoding":{"x":{"datum":1.042,"axis":null},"y":{"datum":0.393,"axis":null}}},
{"mark":{"type":"text","text":"ROI","font":"Lato","fontWeight":"bold","fontSize":62,"color":"#00a077","baseline":"alphabetic","align":"center"},"encoding":{"x":{"datum":0.574,"axis":null},"y":{"datum":0.0748,"axis":null}}}
]}
]
}
